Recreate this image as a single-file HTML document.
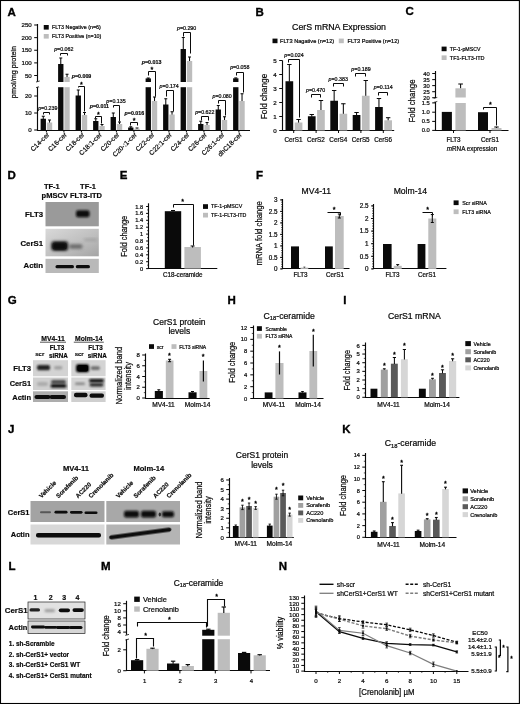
<!DOCTYPE html>
<html lang="en"><head><meta charset="utf-8"><title>Figure</title>
<style>
html,body{margin:0;padding:0;background:#fff;}
body{width:520px;height:704px;overflow:hidden;}
svg{display:block;font-family:"Liberation Sans",sans-serif;}
</style></head><body>
<svg width="520" height="704" viewBox="0 0 520 704">
<rect x="0" y="0" width="520" height="704" fill="#fff"/>
<text x="7.50" y="15.90" font-size="11.5" font-weight="bold" fill="#000" stroke="#000" stroke-width="0.35">A</text>
<line x1="37.50" y1="24.00" x2="37.50" y2="81.50" stroke="#0a0a0a" stroke-width="1.15" />
<line x1="34.20" y1="25.00" x2="37.50" y2="25.00" stroke="#0a0a0a" stroke-width="1.035" />
<text x="31.80" y="27.23" font-size="6.2" text-anchor="end" fill="#0a0a0a" stroke="#0a0a0a" stroke-width="0.22">250</text>
<line x1="34.20" y1="37.62" x2="37.50" y2="37.62" stroke="#0a0a0a" stroke-width="1.035" />
<text x="31.80" y="39.86" font-size="6.2" text-anchor="end" fill="#0a0a0a" stroke="#0a0a0a" stroke-width="0.22">200</text>
<line x1="34.20" y1="50.25" x2="37.50" y2="50.25" stroke="#0a0a0a" stroke-width="1.035" />
<text x="31.80" y="52.48" font-size="6.2" text-anchor="end" fill="#0a0a0a" stroke="#0a0a0a" stroke-width="0.22">150</text>
<line x1="34.20" y1="62.88" x2="37.50" y2="62.88" stroke="#0a0a0a" stroke-width="1.035" />
<text x="31.80" y="65.11" font-size="6.2" text-anchor="end" fill="#0a0a0a" stroke="#0a0a0a" stroke-width="0.22">100</text>
<line x1="34.20" y1="75.50" x2="37.50" y2="75.50" stroke="#0a0a0a" stroke-width="1.035" />
<text x="31.80" y="77.73" font-size="6.2" text-anchor="end" fill="#0a0a0a" stroke="#0a0a0a" stroke-width="0.22">50</text>
<line x1="37.50" y1="87.20" x2="37.50" y2="130.00" stroke="#0a0a0a" stroke-width="1.15" />
<line x1="34.20" y1="96.00" x2="37.50" y2="96.00" stroke="#0a0a0a" stroke-width="1.035" />
<text x="31.80" y="98.23" font-size="6.2" text-anchor="end" fill="#0a0a0a" stroke="#0a0a0a" stroke-width="0.22">20</text>
<line x1="34.20" y1="113.00" x2="37.50" y2="113.00" stroke="#0a0a0a" stroke-width="1.035" />
<text x="31.80" y="115.23" font-size="6.2" text-anchor="end" fill="#0a0a0a" stroke="#0a0a0a" stroke-width="0.22">10</text>
<line x1="34.20" y1="130.00" x2="37.50" y2="130.00" stroke="#0a0a0a" stroke-width="1.035" />
<text x="31.80" y="132.23" font-size="6.2" text-anchor="end" fill="#0a0a0a" stroke="#0a0a0a" stroke-width="0.22">0</text>
<line x1="36.00" y1="82.00" x2="39.70" y2="81.00" stroke="#0a0a0a" stroke-width="0.8" />
<line x1="36.00" y1="87.60" x2="39.70" y2="86.60" stroke="#0a0a0a" stroke-width="0.8" />
<line x1="36.95" y1="130.50" x2="250.00" y2="130.50" stroke="#0a0a0a" stroke-width="1.15" />
<text x="0" y="0" font-size="7.3" text-anchor="middle" fill="#0a0a0a" stroke="#0a0a0a" stroke-width="0.22" transform="translate(15.90 72.00) rotate(-90)">pmol/mg protein</text>
<rect x="43.75" y="25.00" width="5.00" height="4.60" fill="#0a0a0a" />
<text x="52.00" y="29.00" font-size="5.35" text-anchor="start" fill="#0a0a0a" stroke="#0a0a0a" stroke-width="0.22">FLT3 Negative (n=6)</text>
<rect x="43.75" y="34.00" width="5.00" height="4.60" fill="#bdbdbd" />
<text x="52.00" y="38.20" font-size="5.35" text-anchor="start" fill="#0a0a0a" stroke="#0a0a0a" stroke-width="0.22">FLT3 Positive (n=10)</text>
<line x1="43.27" y1="116.25" x2="43.27" y2="119.25" stroke="#0a0a0a" stroke-width="1.05" />
<line x1="41.77" y1="116.25" x2="44.77" y2="116.25" stroke="#0a0a0a" stroke-width="1.05" />
<line x1="49.52" y1="120.00" x2="49.52" y2="123.00" stroke="#0a0a0a" stroke-width="1.05" />
<line x1="48.02" y1="120.00" x2="51.02" y2="120.00" stroke="#0a0a0a" stroke-width="1.05" />
<rect x="40.60" y="118.75" width="5.35" height="11.25" fill="#0a0a0a" />
<rect x="46.85" y="122.50" width="5.35" height="7.50" fill="#bdbdbd" />
<line x1="46.40" y1="130.00" x2="46.40" y2="132.50" stroke="#0a0a0a" stroke-width="1.0" />
<text x="0" y="0" font-size="6.6" text-anchor="end" fill="#0a0a0a" stroke="#0a0a0a" stroke-width="0.22" transform="translate(49.80 135.20) rotate(-45)">C14-cer</text>
<line x1="60.77" y1="58.00" x2="60.77" y2="64.50" stroke="#0a0a0a" stroke-width="1.05" />
<line x1="59.27" y1="58.00" x2="62.27" y2="58.00" stroke="#0a0a0a" stroke-width="1.05" />
<line x1="67.03" y1="74.25" x2="67.03" y2="77.50" stroke="#0a0a0a" stroke-width="1.05" />
<line x1="65.53" y1="74.25" x2="68.53" y2="74.25" stroke="#0a0a0a" stroke-width="1.05" />
<rect x="58.10" y="64.00" width="5.35" height="66.00" fill="#0a0a0a" />
<rect x="64.35" y="77.00" width="5.35" height="53.00" fill="#bdbdbd" />
<line x1="63.90" y1="130.00" x2="63.90" y2="132.50" stroke="#0a0a0a" stroke-width="1.0" />
<text x="0" y="0" font-size="6.6" text-anchor="end" fill="#0a0a0a" stroke="#0a0a0a" stroke-width="0.22" transform="translate(67.30 135.20) rotate(-45)">C16-cer</text>
<line x1="78.27" y1="90.00" x2="78.27" y2="96.00" stroke="#0a0a0a" stroke-width="1.05" />
<line x1="76.77" y1="90.00" x2="79.77" y2="90.00" stroke="#0a0a0a" stroke-width="1.05" />
<line x1="84.52" y1="112.50" x2="84.52" y2="115.50" stroke="#0a0a0a" stroke-width="1.05" />
<line x1="83.02" y1="112.50" x2="86.02" y2="112.50" stroke="#0a0a0a" stroke-width="1.05" />
<rect x="75.60" y="95.50" width="5.35" height="34.50" fill="#0a0a0a" />
<rect x="81.85" y="115.00" width="5.35" height="15.00" fill="#bdbdbd" />
<line x1="81.40" y1="130.00" x2="81.40" y2="132.50" stroke="#0a0a0a" stroke-width="1.0" />
<text x="0" y="0" font-size="6.6" text-anchor="end" fill="#0a0a0a" stroke="#0a0a0a" stroke-width="0.22" transform="translate(84.80 135.20) rotate(-45)">C18-cer</text>
<line x1="95.77" y1="118.75" x2="95.77" y2="121.50" stroke="#0a0a0a" stroke-width="1.05" />
<line x1="94.27" y1="118.75" x2="97.27" y2="118.75" stroke="#0a0a0a" stroke-width="1.05" />
<line x1="102.02" y1="124.50" x2="102.02" y2="126.50" stroke="#0a0a0a" stroke-width="1.05" />
<line x1="100.52" y1="124.50" x2="103.52" y2="124.50" stroke="#0a0a0a" stroke-width="1.05" />
<rect x="93.10" y="121.00" width="5.35" height="9.00" fill="#0a0a0a" />
<rect x="99.35" y="126.00" width="5.35" height="4.00" fill="#bdbdbd" />
<line x1="98.90" y1="130.00" x2="98.90" y2="132.50" stroke="#0a0a0a" stroke-width="1.0" />
<text x="0" y="0" font-size="6.6" text-anchor="end" fill="#0a0a0a" stroke="#0a0a0a" stroke-width="0.22" transform="translate(102.30 135.20) rotate(-45)">C18:1-cer</text>
<line x1="113.27" y1="113.00" x2="113.27" y2="117.50" stroke="#0a0a0a" stroke-width="1.05" />
<line x1="111.77" y1="113.00" x2="114.77" y2="113.00" stroke="#0a0a0a" stroke-width="1.05" />
<line x1="119.52" y1="122.00" x2="119.52" y2="124.50" stroke="#0a0a0a" stroke-width="1.05" />
<line x1="118.02" y1="122.00" x2="121.02" y2="122.00" stroke="#0a0a0a" stroke-width="1.05" />
<rect x="110.60" y="117.00" width="5.35" height="13.00" fill="#0a0a0a" />
<rect x="116.85" y="124.00" width="5.35" height="6.00" fill="#bdbdbd" />
<line x1="116.40" y1="130.00" x2="116.40" y2="132.50" stroke="#0a0a0a" stroke-width="1.0" />
<text x="0" y="0" font-size="6.6" text-anchor="end" fill="#0a0a0a" stroke="#0a0a0a" stroke-width="0.22" transform="translate(119.80 135.20) rotate(-45)">C20-cer</text>
<line x1="130.78" y1="126.80" x2="130.78" y2="128.00" stroke="#0a0a0a" stroke-width="1.05" />
<line x1="129.28" y1="126.80" x2="132.28" y2="126.80" stroke="#0a0a0a" stroke-width="1.05" />
<line x1="137.03" y1="128.00" x2="137.03" y2="129.20" stroke="#0a0a0a" stroke-width="1.05" />
<line x1="135.53" y1="128.00" x2="138.53" y2="128.00" stroke="#0a0a0a" stroke-width="1.05" />
<rect x="128.10" y="127.50" width="5.35" height="2.50" fill="#0a0a0a" />
<rect x="134.35" y="128.70" width="5.35" height="1.30" fill="#bdbdbd" />
<line x1="133.90" y1="130.00" x2="133.90" y2="132.50" stroke="#0a0a0a" stroke-width="1.0" />
<text x="0" y="0" font-size="6.6" text-anchor="end" fill="#0a0a0a" stroke="#0a0a0a" stroke-width="0.22" transform="translate(137.30 135.20) rotate(-45)">C20-:1-cer</text>
<line x1="148.28" y1="78.00" x2="148.28" y2="78.90" stroke="#0a0a0a" stroke-width="1.05" />
<line x1="146.78" y1="78.00" x2="149.78" y2="78.00" stroke="#0a0a0a" stroke-width="1.05" />
<line x1="154.53" y1="97.00" x2="154.53" y2="101.50" stroke="#0a0a0a" stroke-width="1.05" />
<line x1="153.03" y1="97.00" x2="156.03" y2="97.00" stroke="#0a0a0a" stroke-width="1.05" />
<rect x="145.60" y="78.40" width="5.35" height="51.60" fill="#0a0a0a" />
<rect x="151.85" y="101.00" width="5.35" height="29.00" fill="#bdbdbd" />
<line x1="151.40" y1="130.00" x2="151.40" y2="132.50" stroke="#0a0a0a" stroke-width="1.0" />
<text x="0" y="0" font-size="6.6" text-anchor="end" fill="#0a0a0a" stroke="#0a0a0a" stroke-width="0.22" transform="translate(154.80 135.20) rotate(-45)">C22-cer</text>
<line x1="165.78" y1="98.75" x2="165.78" y2="105.00" stroke="#0a0a0a" stroke-width="1.05" />
<line x1="164.28" y1="98.75" x2="167.28" y2="98.75" stroke="#0a0a0a" stroke-width="1.05" />
<line x1="172.03" y1="111.75" x2="172.03" y2="115.00" stroke="#0a0a0a" stroke-width="1.05" />
<line x1="170.53" y1="111.75" x2="173.53" y2="111.75" stroke="#0a0a0a" stroke-width="1.05" />
<rect x="163.10" y="104.50" width="5.35" height="25.50" fill="#0a0a0a" />
<rect x="169.35" y="114.50" width="5.35" height="15.50" fill="#bdbdbd" />
<line x1="168.90" y1="130.00" x2="168.90" y2="132.50" stroke="#0a0a0a" stroke-width="1.0" />
<text x="0" y="0" font-size="6.6" text-anchor="end" fill="#0a0a0a" stroke="#0a0a0a" stroke-width="0.22" transform="translate(172.30 135.20) rotate(-45)">C22:1-cer</text>
<line x1="183.28" y1="37.50" x2="183.28" y2="49.50" stroke="#0a0a0a" stroke-width="1.05" />
<line x1="181.78" y1="37.50" x2="184.78" y2="37.50" stroke="#0a0a0a" stroke-width="1.05" />
<line x1="189.53" y1="57.00" x2="189.53" y2="61.50" stroke="#0a0a0a" stroke-width="1.05" />
<line x1="188.03" y1="57.00" x2="191.03" y2="57.00" stroke="#0a0a0a" stroke-width="1.05" />
<rect x="180.60" y="49.00" width="5.35" height="81.00" fill="#0a0a0a" />
<rect x="186.85" y="61.00" width="5.35" height="69.00" fill="#bdbdbd" />
<line x1="186.40" y1="130.00" x2="186.40" y2="132.50" stroke="#0a0a0a" stroke-width="1.0" />
<text x="0" y="0" font-size="6.6" text-anchor="end" fill="#0a0a0a" stroke="#0a0a0a" stroke-width="0.22" transform="translate(189.80 135.20) rotate(-45)">C24-cer</text>
<line x1="200.78" y1="121.25" x2="200.78" y2="124.50" stroke="#0a0a0a" stroke-width="1.05" />
<line x1="199.28" y1="121.25" x2="202.28" y2="121.25" stroke="#0a0a0a" stroke-width="1.05" />
<line x1="207.03" y1="122.50" x2="207.03" y2="125.50" stroke="#0a0a0a" stroke-width="1.05" />
<line x1="205.53" y1="122.50" x2="208.53" y2="122.50" stroke="#0a0a0a" stroke-width="1.05" />
<rect x="198.10" y="124.00" width="5.35" height="6.00" fill="#0a0a0a" />
<rect x="204.35" y="125.00" width="5.35" height="5.00" fill="#bdbdbd" />
<line x1="203.90" y1="130.00" x2="203.90" y2="132.50" stroke="#0a0a0a" stroke-width="1.0" />
<text x="0" y="0" font-size="6.6" text-anchor="end" fill="#0a0a0a" stroke="#0a0a0a" stroke-width="0.22" transform="translate(207.30 135.20) rotate(-45)">C26-cer</text>
<line x1="218.28" y1="105.50" x2="218.28" y2="110.00" stroke="#0a0a0a" stroke-width="1.05" />
<line x1="216.78" y1="105.50" x2="219.78" y2="105.50" stroke="#0a0a0a" stroke-width="1.05" />
<line x1="224.53" y1="116.75" x2="224.53" y2="120.50" stroke="#0a0a0a" stroke-width="1.05" />
<line x1="223.03" y1="116.75" x2="226.03" y2="116.75" stroke="#0a0a0a" stroke-width="1.05" />
<rect x="215.60" y="109.50" width="5.35" height="20.50" fill="#0a0a0a" />
<rect x="221.85" y="120.00" width="5.35" height="10.00" fill="#bdbdbd" />
<line x1="221.40" y1="130.00" x2="221.40" y2="132.50" stroke="#0a0a0a" stroke-width="1.0" />
<text x="0" y="0" font-size="6.6" text-anchor="end" fill="#0a0a0a" stroke="#0a0a0a" stroke-width="0.22" transform="translate(224.80 135.20) rotate(-45)">C26:1-cer</text>
<line x1="235.78" y1="77.90" x2="235.78" y2="78.80" stroke="#0a0a0a" stroke-width="1.05" />
<line x1="234.28" y1="77.90" x2="237.28" y2="77.90" stroke="#0a0a0a" stroke-width="1.05" />
<line x1="242.03" y1="93.75" x2="242.03" y2="101.50" stroke="#0a0a0a" stroke-width="1.05" />
<line x1="240.53" y1="93.75" x2="243.53" y2="93.75" stroke="#0a0a0a" stroke-width="1.05" />
<rect x="233.10" y="78.30" width="5.35" height="51.70" fill="#0a0a0a" />
<rect x="239.35" y="101.00" width="5.35" height="29.00" fill="#bdbdbd" />
<line x1="238.90" y1="130.00" x2="238.90" y2="132.50" stroke="#0a0a0a" stroke-width="1.0" />
<text x="0" y="0" font-size="6.6" text-anchor="end" fill="#0a0a0a" stroke="#0a0a0a" stroke-width="0.22" transform="translate(242.30 135.20) rotate(-45)">dhC18-cer</text>
<rect x="39.00" y="82.00" width="212.00" height="5.20" fill="#fff" />
<text x="47.80" y="110.00" font-size="5.3" text-anchor="middle" fill="#0a0a0a" stroke="#0a0a0a" stroke-width="0.22"><tspan font-style="italic">p</tspan>=0.239</text>
<polyline points="43.50,114.50 43.50,112.50 49.50,112.50 49.50,114.50" fill="none" stroke="#0a0a0a" stroke-width="1.0" />
<text x="63.80" y="51.20" font-size="5.3" text-anchor="middle" fill="#0a0a0a" stroke="#0a0a0a" stroke-width="0.22"><tspan font-style="italic">p</tspan>=0.062</text>
<polyline points="60.50,55.50 60.50,53.50 67.50,53.50 67.50,55.50" fill="none" stroke="#0a0a0a" stroke-width="1.0" />
<text x="81.50" y="78.00" font-size="5.3" text-anchor="middle" font-weight="bold" fill="#0a0a0a" stroke="#0a0a0a" stroke-width="0.18"><tspan font-style="italic">p</tspan>=0.009</text>
<text x="81.30" y="87.38" font-size="7.2" text-anchor="middle" fill="#000" stroke="#000" stroke-width="0.35">*</text>
<polyline points="78.50,87.50 78.50,86.50 84.50,86.50 84.50,111.50" fill="none" stroke="#0a0a0a" stroke-width="1.0" />
<text x="99.40" y="108.20" font-size="5.3" text-anchor="middle" font-weight="bold" fill="#0a0a0a" stroke="#0a0a0a" stroke-width="0.18"><tspan font-style="italic">p</tspan>=0.011</text>
<text x="98.40" y="117.38" font-size="7.2" text-anchor="middle" fill="#000" stroke="#000" stroke-width="0.35">*</text>
<polyline points="95.50,118.50 95.50,116.50 101.50,116.50 101.50,123.50" fill="none" stroke="#0a0a0a" stroke-width="1.0" />
<text x="116.00" y="102.50" font-size="5.3" text-anchor="middle" fill="#0a0a0a" stroke="#0a0a0a" stroke-width="0.22"><tspan font-style="italic">p</tspan>=0.135</text>
<polyline points="113.50,107.50 113.50,105.50 119.50,105.50 119.50,121.50" fill="none" stroke="#0a0a0a" stroke-width="1.0" />
<text x="134.40" y="115.00" font-size="5.3" text-anchor="middle" font-weight="bold" fill="#0a0a0a" stroke="#0a0a0a" stroke-width="0.18"><tspan font-style="italic">p</tspan>=0.016</text>
<text x="134.20" y="123.18" font-size="7.2" text-anchor="middle" fill="#000" stroke="#000" stroke-width="0.35">*</text>
<polyline points="130.50,125.50 130.50,122.50 137.50,122.50 137.50,125.50" fill="none" stroke="#0a0a0a" stroke-width="1.0" />
<text x="151.60" y="63.80" font-size="5.3" text-anchor="middle" font-weight="bold" fill="#0a0a0a" stroke="#0a0a0a" stroke-width="0.18"><tspan font-style="italic">p</tspan>=0.013</text>
<text x="152.00" y="72.38" font-size="7.2" text-anchor="middle" fill="#000" stroke="#000" stroke-width="0.35">*</text>
<polyline points="148.50,75.50 148.50,71.50 155.50,71.50 155.50,96.50" fill="none" stroke="#0a0a0a" stroke-width="1.0" />
<text x="169.10" y="88.00" font-size="5.3" text-anchor="middle" fill="#0a0a0a" stroke="#0a0a0a" stroke-width="0.22"><tspan font-style="italic">p</tspan>=0.174</text>
<polyline points="166.50,96.50 166.50,90.50 173.50,90.50 173.50,111.50" fill="none" stroke="#0a0a0a" stroke-width="1.0" />
<text x="186.60" y="29.50" font-size="5.3" text-anchor="middle" fill="#0a0a0a" stroke="#0a0a0a" stroke-width="0.22"><tspan font-style="italic">p</tspan>=0.290</text>
<polyline points="183.50,36.50 183.50,32.50 190.50,32.50 190.50,53.50" fill="none" stroke="#0a0a0a" stroke-width="1.0" />
<text x="204.80" y="113.80" font-size="5.3" text-anchor="middle" fill="#0a0a0a" stroke="#0a0a0a" stroke-width="0.22"><tspan font-style="italic">p</tspan>=0.622</text>
<polyline points="201.50,120.50 201.50,116.50 208.50,116.50 208.50,120.50" fill="none" stroke="#0a0a0a" stroke-width="1.0" />
<text x="222.10" y="97.50" font-size="5.3" text-anchor="middle" fill="#0a0a0a" stroke="#0a0a0a" stroke-width="0.22"><tspan font-style="italic">p</tspan>=0.080</text>
<polyline points="218.50,103.50 218.50,100.50 225.50,100.50 225.50,115.50" fill="none" stroke="#0a0a0a" stroke-width="1.0" />
<text x="239.80" y="68.80" font-size="5.3" text-anchor="middle" fill="#0a0a0a" stroke="#0a0a0a" stroke-width="0.22"><tspan font-style="italic">p</tspan>=0.058</text>
<polyline points="236.50,75.50 236.50,72.50 243.50,72.50 243.50,92.50" fill="none" stroke="#0a0a0a" stroke-width="1.0" />
<text x="255.50" y="15.90" font-size="11.5" font-weight="bold" fill="#000" stroke="#000" stroke-width="0.35">B</text>
<text x="339.00" y="29.60" font-size="8.8" text-anchor="middle" fill="#0a0a0a" stroke="#0a0a0a" stroke-width="0.22">CerS mRNA Expression</text>
<rect x="272.50" y="38.60" width="5.00" height="4.60" fill="#0a0a0a" />
<text x="280.00" y="42.80" font-size="5.6" text-anchor="start" fill="#0a0a0a" stroke="#0a0a0a" stroke-width="0.22">FLT3 Nagative (n=12)</text>
<rect x="338.80" y="38.60" width="5.00" height="4.60" fill="#bdbdbd" />
<text x="347.50" y="42.80" font-size="5.6" text-anchor="start" fill="#0a0a0a" stroke="#0a0a0a" stroke-width="0.22">FLT3 Positive (n=12)</text>
<line x1="282.50" y1="60.50" x2="282.50" y2="130.50" stroke="#0a0a0a" stroke-width="1.15" />
<line x1="279.20" y1="130.50" x2="282.50" y2="130.50" stroke="#0a0a0a" stroke-width="1.035" />
<text x="276.80" y="132.73" font-size="6.2" text-anchor="end" fill="#0a0a0a" stroke="#0a0a0a" stroke-width="0.22">0</text>
<line x1="279.20" y1="116.50" x2="282.50" y2="116.50" stroke="#0a0a0a" stroke-width="1.035" />
<text x="276.80" y="118.73" font-size="6.2" text-anchor="end" fill="#0a0a0a" stroke="#0a0a0a" stroke-width="0.22">1</text>
<line x1="279.20" y1="102.50" x2="282.50" y2="102.50" stroke="#0a0a0a" stroke-width="1.035" />
<text x="276.80" y="104.73" font-size="6.2" text-anchor="end" fill="#0a0a0a" stroke="#0a0a0a" stroke-width="0.22">2</text>
<line x1="279.20" y1="88.50" x2="282.50" y2="88.50" stroke="#0a0a0a" stroke-width="1.035" />
<text x="276.80" y="90.73" font-size="6.2" text-anchor="end" fill="#0a0a0a" stroke="#0a0a0a" stroke-width="0.22">3</text>
<line x1="279.20" y1="74.50" x2="282.50" y2="74.50" stroke="#0a0a0a" stroke-width="1.035" />
<text x="276.80" y="76.73" font-size="6.2" text-anchor="end" fill="#0a0a0a" stroke="#0a0a0a" stroke-width="0.22">4</text>
<line x1="279.20" y1="60.50" x2="282.50" y2="60.50" stroke="#0a0a0a" stroke-width="1.035" />
<text x="276.80" y="62.73" font-size="6.2" text-anchor="end" fill="#0a0a0a" stroke="#0a0a0a" stroke-width="0.22">5</text>
<line x1="281.95" y1="130.50" x2="394.20" y2="130.50" stroke="#0a0a0a" stroke-width="1.15" />
<text x="0" y="0" font-size="9.2" text-anchor="middle" fill="#0a0a0a" stroke="#0a0a0a" stroke-width="0.22" transform="translate(267.30 96.50) rotate(-90) scale(0.9 1)">Fold change</text>
<line x1="289.35" y1="64.50" x2="289.35" y2="81.75" stroke="#0a0a0a" stroke-width="1.05" />
<line x1="287.15" y1="64.50" x2="291.55" y2="64.50" stroke="#0a0a0a" stroke-width="1.05" />
<line x1="298.55" y1="119.50" x2="298.55" y2="123.00" stroke="#0a0a0a" stroke-width="1.05" />
<line x1="296.35" y1="119.50" x2="300.75" y2="119.50" stroke="#0a0a0a" stroke-width="1.05" />
<rect x="285.50" y="81.25" width="7.70" height="49.25" fill="#0a0a0a" />
<rect x="294.70" y="122.50" width="7.70" height="8.00" fill="#bdbdbd" />
<line x1="293.70" y1="130.50" x2="293.70" y2="133.00" stroke="#0a0a0a" stroke-width="1.0" />
<text x="293.50" y="142.30" font-size="6.3" text-anchor="middle" fill="#0a0a0a" stroke="#0a0a0a" stroke-width="0.22">CerS1</text>
<line x1="311.75" y1="114.50" x2="311.75" y2="116.75" stroke="#0a0a0a" stroke-width="1.05" />
<line x1="309.55" y1="114.50" x2="313.95" y2="114.50" stroke="#0a0a0a" stroke-width="1.05" />
<line x1="320.95" y1="100.50" x2="320.95" y2="110.50" stroke="#0a0a0a" stroke-width="1.05" />
<line x1="318.75" y1="100.50" x2="323.15" y2="100.50" stroke="#0a0a0a" stroke-width="1.05" />
<rect x="307.90" y="116.25" width="7.70" height="14.25" fill="#0a0a0a" />
<rect x="317.10" y="110.00" width="7.70" height="20.50" fill="#bdbdbd" />
<line x1="316.10" y1="130.50" x2="316.10" y2="133.00" stroke="#0a0a0a" stroke-width="1.0" />
<text x="315.90" y="142.30" font-size="6.3" text-anchor="middle" fill="#0a0a0a" stroke="#0a0a0a" stroke-width="0.22">CerS2</text>
<line x1="334.15" y1="90.50" x2="334.15" y2="101.25" stroke="#0a0a0a" stroke-width="1.05" />
<line x1="331.95" y1="90.50" x2="336.35" y2="90.50" stroke="#0a0a0a" stroke-width="1.05" />
<line x1="343.35" y1="103.75" x2="343.35" y2="114.25" stroke="#0a0a0a" stroke-width="1.05" />
<line x1="341.15" y1="103.75" x2="345.55" y2="103.75" stroke="#0a0a0a" stroke-width="1.05" />
<rect x="330.30" y="100.75" width="7.70" height="29.75" fill="#0a0a0a" />
<rect x="339.50" y="113.75" width="7.70" height="16.75" fill="#bdbdbd" />
<line x1="338.50" y1="130.50" x2="338.50" y2="133.00" stroke="#0a0a0a" stroke-width="1.0" />
<text x="338.30" y="142.30" font-size="6.3" text-anchor="middle" fill="#0a0a0a" stroke="#0a0a0a" stroke-width="0.22">CerS4</text>
<line x1="356.55" y1="112.50" x2="356.55" y2="115.50" stroke="#0a0a0a" stroke-width="1.05" />
<line x1="354.35" y1="112.50" x2="358.75" y2="112.50" stroke="#0a0a0a" stroke-width="1.05" />
<line x1="365.75" y1="80.50" x2="365.75" y2="96.25" stroke="#0a0a0a" stroke-width="1.05" />
<line x1="363.55" y1="80.50" x2="367.95" y2="80.50" stroke="#0a0a0a" stroke-width="1.05" />
<rect x="352.70" y="115.00" width="7.70" height="15.50" fill="#0a0a0a" />
<rect x="361.90" y="95.75" width="7.70" height="34.75" fill="#bdbdbd" />
<line x1="360.90" y1="130.50" x2="360.90" y2="133.00" stroke="#0a0a0a" stroke-width="1.0" />
<text x="360.70" y="142.30" font-size="6.3" text-anchor="middle" fill="#0a0a0a" stroke="#0a0a0a" stroke-width="0.22">CerS5</text>
<line x1="378.95" y1="98.50" x2="378.95" y2="107.50" stroke="#0a0a0a" stroke-width="1.05" />
<line x1="376.75" y1="98.50" x2="381.15" y2="98.50" stroke="#0a0a0a" stroke-width="1.05" />
<line x1="388.15" y1="117.70" x2="388.15" y2="120.80" stroke="#0a0a0a" stroke-width="1.05" />
<line x1="385.95" y1="117.70" x2="390.35" y2="117.70" stroke="#0a0a0a" stroke-width="1.05" />
<rect x="375.10" y="107.00" width="7.70" height="23.50" fill="#0a0a0a" />
<rect x="384.30" y="120.30" width="7.70" height="10.20" fill="#bdbdbd" />
<line x1="383.30" y1="130.50" x2="383.30" y2="133.00" stroke="#0a0a0a" stroke-width="1.0" />
<text x="383.10" y="142.30" font-size="6.3" text-anchor="middle" fill="#0a0a0a" stroke="#0a0a0a" stroke-width="0.22">CerS6</text>
<text x="294.00" y="57.40" font-size="5.3" text-anchor="middle" fill="#0a0a0a" stroke="#0a0a0a" stroke-width="0.22"><tspan font-style="italic">p</tspan>=0.024</text>
<polyline points="288.50,62.50 288.50,59.50 299.50,59.50 299.50,117.50" fill="none" stroke="#0a0a0a" stroke-width="1.0" />
<text x="315.60" y="92.20" font-size="5.3" text-anchor="middle" fill="#0a0a0a" stroke="#0a0a0a" stroke-width="0.22"><tspan font-style="italic">p</tspan>=0.470</text>
<polyline points="311.50,97.50 311.50,94.50 320.50,94.50 320.50,97.50" fill="none" stroke="#0a0a0a" stroke-width="1.0" />
<text x="338.20" y="81.20" font-size="5.3" text-anchor="middle" fill="#0a0a0a" stroke="#0a0a0a" stroke-width="0.22"><tspan font-style="italic">p</tspan>=0.383</text>
<polyline points="333.50,86.50 333.50,83.50 343.50,83.50 343.50,86.50" fill="none" stroke="#0a0a0a" stroke-width="1.0" />
<text x="361.00" y="71.10" font-size="5.3" text-anchor="middle" fill="#0a0a0a" stroke="#0a0a0a" stroke-width="0.22"><tspan font-style="italic">p</tspan>=0.189</text>
<polyline points="355.50,76.50 355.50,73.50 365.50,73.50 365.50,76.50" fill="none" stroke="#0a0a0a" stroke-width="1.0" />
<text x="383.20" y="89.40" font-size="5.3" text-anchor="middle" fill="#0a0a0a" stroke="#0a0a0a" stroke-width="0.22"><tspan font-style="italic">p</tspan>=0.114</text>
<polyline points="378.50,95.50 378.50,92.50 387.50,92.50 387.50,95.50" fill="none" stroke="#0a0a0a" stroke-width="1.0" />
<text x="405.50" y="15.40" font-size="11.5" font-weight="bold" fill="#000" stroke="#000" stroke-width="0.35">C</text>
<rect x="441.60" y="46.60" width="5.00" height="4.60" fill="#0a0a0a" />
<text x="449.80" y="50.90" font-size="5.2" text-anchor="start" fill="#0a0a0a" stroke="#0a0a0a" stroke-width="0.22">TF-1-pMSCV</text>
<rect x="441.60" y="55.40" width="5.00" height="4.60" fill="#bdbdbd" />
<text x="449.80" y="59.70" font-size="5.5" text-anchor="start" fill="#0a0a0a" stroke="#0a0a0a" stroke-width="0.22">TF1-FLT3-ITD</text>
<line x1="435.50" y1="71.00" x2="435.50" y2="98.00" stroke="#0a0a0a" stroke-width="1.15" />
<line x1="432.20" y1="73.50" x2="435.50" y2="73.50" stroke="#0a0a0a" stroke-width="1.035" />
<text x="429.80" y="75.59" font-size="5.8" text-anchor="end" fill="#0a0a0a" stroke="#0a0a0a" stroke-width="0.22">40</text>
<line x1="432.20" y1="79.60" x2="435.50" y2="79.60" stroke="#0a0a0a" stroke-width="1.035" />
<text x="429.80" y="81.69" font-size="5.8" text-anchor="end" fill="#0a0a0a" stroke="#0a0a0a" stroke-width="0.22">35</text>
<line x1="432.20" y1="85.60" x2="435.50" y2="85.60" stroke="#0a0a0a" stroke-width="1.035" />
<text x="429.80" y="87.69" font-size="5.8" text-anchor="end" fill="#0a0a0a" stroke="#0a0a0a" stroke-width="0.22">30</text>
<line x1="432.20" y1="91.70" x2="435.50" y2="91.70" stroke="#0a0a0a" stroke-width="1.035" />
<text x="429.80" y="93.79" font-size="5.8" text-anchor="end" fill="#0a0a0a" stroke="#0a0a0a" stroke-width="0.22">25</text>
<line x1="432.20" y1="97.70" x2="435.50" y2="97.70" stroke="#0a0a0a" stroke-width="1.035" />
<text x="429.80" y="99.79" font-size="5.8" text-anchor="end" fill="#0a0a0a" stroke="#0a0a0a" stroke-width="0.22">20</text>
<line x1="435.50" y1="102.00" x2="435.50" y2="130.40" stroke="#0a0a0a" stroke-width="1.15" />
<line x1="432.20" y1="102.90" x2="435.50" y2="102.90" stroke="#0a0a0a" stroke-width="1.035" />
<text x="429.80" y="104.99" font-size="5.8" text-anchor="end" fill="#0a0a0a" stroke="#0a0a0a" stroke-width="0.22">1.5</text>
<line x1="432.20" y1="112.20" x2="435.50" y2="112.20" stroke="#0a0a0a" stroke-width="1.035" />
<text x="429.80" y="114.29" font-size="5.8" text-anchor="end" fill="#0a0a0a" stroke="#0a0a0a" stroke-width="0.22">1.0</text>
<line x1="432.20" y1="121.40" x2="435.50" y2="121.40" stroke="#0a0a0a" stroke-width="1.035" />
<text x="429.80" y="123.49" font-size="5.8" text-anchor="end" fill="#0a0a0a" stroke="#0a0a0a" stroke-width="0.22">0.5</text>
<line x1="432.20" y1="130.40" x2="435.50" y2="130.40" stroke="#0a0a0a" stroke-width="1.035" />
<text x="429.80" y="132.49" font-size="5.8" text-anchor="end" fill="#0a0a0a" stroke="#0a0a0a" stroke-width="0.22">0.0</text>
<line x1="433.70" y1="98.40" x2="437.30" y2="97.40" stroke="#0a0a0a" stroke-width="0.7" />
<line x1="433.70" y1="102.40" x2="437.30" y2="101.40" stroke="#0a0a0a" stroke-width="0.7" />
<line x1="434.95" y1="130.50" x2="508.50" y2="130.50" stroke="#0a0a0a" stroke-width="1.15" />
<text x="0" y="0" font-size="8.7" text-anchor="middle" fill="#0a0a0a" stroke="#0a0a0a" stroke-width="0.22" transform="translate(415.20 101.00) rotate(-90) scale(0.9 1)">Fold change</text>
<rect x="441.80" y="111.90" width="10.10" height="18.50" fill="#0a0a0a" />
<line x1="460.60" y1="84.00" x2="460.60" y2="88.50" stroke="#0a0a0a" stroke-width="1.05" />
<line x1="458.30" y1="84.00" x2="462.90" y2="84.00" stroke="#0a0a0a" stroke-width="1.05" />
<rect x="455.40" y="88.30" width="10.40" height="9.20" fill="#bdbdbd" />
<rect x="455.40" y="103.00" width="10.40" height="27.40" fill="#bdbdbd" />
<line x1="453.50" y1="130.40" x2="453.50" y2="133.00" stroke="#0a0a0a" stroke-width="1.0" />
<rect x="478.00" y="112.20" width="10.00" height="18.20" fill="#0a0a0a" />
<rect x="491.50" y="128.00" width="10.00" height="2.40" fill="#bdbdbd" />
<line x1="496.50" y1="127.00" x2="496.50" y2="128.00" stroke="#0a0a0a" stroke-width="1.05" />
<line x1="494.30" y1="127.00" x2="498.70" y2="127.00" stroke="#0a0a0a" stroke-width="1.05" />
<line x1="490.00" y1="130.40" x2="490.00" y2="133.00" stroke="#0a0a0a" stroke-width="1.0" />
<polyline points="483.50,109.50 483.50,107.50 496.50,107.50 496.50,125.50" fill="none" stroke="#0a0a0a" stroke-width="1.0" />
<text x="490.50" y="106.88" font-size="7.2" text-anchor="middle" fill="#000" stroke="#000" stroke-width="0.35">*</text>
<text x="453.50" y="142.30" font-size="6.3" text-anchor="middle" fill="#0a0a0a" stroke="#0a0a0a" stroke-width="0.22">FLT3</text>
<text x="490.00" y="142.30" font-size="6.3" text-anchor="middle" fill="#0a0a0a" stroke="#0a0a0a" stroke-width="0.22">CerS1</text>
<text x="472.00" y="151.20" font-size="6.3" text-anchor="middle" fill="#0a0a0a" stroke="#0a0a0a" stroke-width="0.22"><tspan font-style="italic">m</tspan>RNA expression</text>
<text x="7.50" y="178.70" font-size="11.5" font-weight="bold" fill="#000" stroke="#000" stroke-width="0.35">D</text>
<defs><filter id="b1" x="-30%" y="-60%" width="160%" height="220%"><feGaussianBlur stdDeviation="0.9"/></filter><filter id="b2" x="-30%" y="-60%" width="160%" height="220%"><feGaussianBlur stdDeviation="1.5"/></filter><filter id="b05" x="-30%" y="-60%" width="160%" height="220%"><feGaussianBlur stdDeviation="0.55"/></filter><linearGradient id="gD2" x1="0" x2="1" y1="0" y2="1"><stop offset="0" stop-color="#d9d9d9"/><stop offset="0.6" stop-color="#bdbdbd"/><stop offset="1" stop-color="#a4a4a4"/></linearGradient></defs>
<text x="51.80" y="188.80" font-size="7.5" text-anchor="middle" font-weight="bold" fill="#0a0a0a" stroke="#0a0a0a" stroke-width="0.18">TF-1</text>
<text x="54.70" y="198.00" font-size="7.5" text-anchor="middle" font-weight="bold" fill="#0a0a0a" stroke="#0a0a0a" stroke-width="0.18">pMSCV</text>
<text x="88.00" y="188.80" font-size="7.5" text-anchor="middle" font-weight="bold" fill="#0a0a0a" stroke="#0a0a0a" stroke-width="0.18">TF-1</text>
<text x="86.00" y="198.00" font-size="7.5" text-anchor="middle" font-weight="bold" fill="#0a0a0a" stroke="#0a0a0a" stroke-width="0.18">FLT3-ITD</text>
<clipPath id="c1"><rect x="45.50" y="202.00" width="53.30" height="24.30"/></clipPath>
<rect x="45.50" y="202.00" width="53.30" height="24.30" fill="#9a9a9a" />
<g clip-path="url(#c1)"><rect x="76.00" y="210.30" width="13.50" height="7.00" rx="2.00" fill="#0c0c0c" opacity="1" filter="url(#b1)"/></g>
<clipPath id="c2"><rect x="45.50" y="228.80" width="53.30" height="27.50"/></clipPath>
<rect x="45.50" y="228.80" width="53.30" height="27.50" fill="url(#gD2)" />
<g clip-path="url(#c2)"><rect x="51.50" y="241.50" width="16.50" height="9.00" rx="2.00" fill="#0a0a0a" opacity="1" filter="url(#b2)"/></g>
<g clip-path="url(#c2)"><rect x="53.00" y="243.00" width="13.00" height="6.50" rx="2.00" fill="#0a0a0a" opacity="1" filter="url(#b1)"/></g>
<g clip-path="url(#c2)"><rect x="69.00" y="244.30" width="13.50" height="4.50" rx="2.00" fill="#555" opacity="0.8" filter="url(#b2)"/></g>
<g clip-path="url(#c2)"><rect x="84.00" y="238.50" width="13.00" height="2.50" rx="1.25" fill="#888" opacity="0.5" filter="url(#b2)"/></g>
<clipPath id="c3"><rect x="45.50" y="258.80" width="53.30" height="14.20"/></clipPath>
<rect x="45.50" y="258.80" width="53.30" height="14.20" fill="#b9b9b9" />
<g clip-path="url(#c3)"><rect x="55.50" y="265.00" width="18.50" height="3.30" rx="1.65" fill="#0a0a0a" opacity="1" filter="url(#b05)"/></g>
<g clip-path="url(#c3)"><rect x="75.80" y="265.00" width="14.20" height="3.30" rx="1.65" fill="#0a0a0a" opacity="1" filter="url(#b05)"/></g>
<text x="43.00" y="217.00" font-size="7.8" text-anchor="end" font-weight="bold" fill="#0a0a0a" stroke="#0a0a0a" stroke-width="0.18">FLT3</text>
<text x="43.00" y="245.80" font-size="7.8" text-anchor="end" font-weight="bold" fill="#0a0a0a" stroke="#0a0a0a" stroke-width="0.18">CerS1</text>
<text x="43.00" y="268.20" font-size="7.8" text-anchor="end" font-weight="bold" fill="#0a0a0a" stroke="#0a0a0a" stroke-width="0.18">Actin</text>
<text x="119.80" y="178.70" font-size="11.5" font-weight="bold" fill="#000" stroke="#000" stroke-width="0.35">E</text>
<line x1="148.50" y1="203.30" x2="148.50" y2="268.60" stroke="#0a0a0a" stroke-width="1.15" />
<line x1="146.10" y1="268.60" x2="148.50" y2="268.60" stroke="#0a0a0a" stroke-width="1.035" />
<text x="143.10" y="270.65" font-size="5.7" text-anchor="end" fill="#0a0a0a" stroke="#0a0a0a" stroke-width="0.22">0</text>
<line x1="146.10" y1="261.70" x2="148.50" y2="261.70" stroke="#0a0a0a" stroke-width="1.035" />
<text x="143.10" y="263.75" font-size="5.7" text-anchor="end" fill="#0a0a0a" stroke="#0a0a0a" stroke-width="0.22">0.2</text>
<line x1="146.10" y1="254.80" x2="148.50" y2="254.80" stroke="#0a0a0a" stroke-width="1.035" />
<text x="143.10" y="256.85" font-size="5.7" text-anchor="end" fill="#0a0a0a" stroke="#0a0a0a" stroke-width="0.22">0.4</text>
<line x1="146.10" y1="247.90" x2="148.50" y2="247.90" stroke="#0a0a0a" stroke-width="1.035" />
<text x="143.10" y="249.95" font-size="5.7" text-anchor="end" fill="#0a0a0a" stroke="#0a0a0a" stroke-width="0.22">0.6</text>
<line x1="146.10" y1="241.00" x2="148.50" y2="241.00" stroke="#0a0a0a" stroke-width="1.035" />
<text x="143.10" y="243.05" font-size="5.7" text-anchor="end" fill="#0a0a0a" stroke="#0a0a0a" stroke-width="0.22">0.8</text>
<line x1="146.10" y1="234.10" x2="148.50" y2="234.10" stroke="#0a0a0a" stroke-width="1.035" />
<text x="143.10" y="236.15" font-size="5.7" text-anchor="end" fill="#0a0a0a" stroke="#0a0a0a" stroke-width="0.22">1</text>
<line x1="146.10" y1="227.20" x2="148.50" y2="227.20" stroke="#0a0a0a" stroke-width="1.035" />
<text x="143.10" y="229.25" font-size="5.7" text-anchor="end" fill="#0a0a0a" stroke="#0a0a0a" stroke-width="0.22">1.2</text>
<line x1="146.10" y1="220.30" x2="148.50" y2="220.30" stroke="#0a0a0a" stroke-width="1.035" />
<text x="143.10" y="222.35" font-size="5.7" text-anchor="end" fill="#0a0a0a" stroke="#0a0a0a" stroke-width="0.22">1.4</text>
<line x1="146.10" y1="213.40" x2="148.50" y2="213.40" stroke="#0a0a0a" stroke-width="1.035" />
<text x="143.10" y="215.45" font-size="5.7" text-anchor="end" fill="#0a0a0a" stroke="#0a0a0a" stroke-width="0.22">1.6</text>
<line x1="146.10" y1="206.50" x2="148.50" y2="206.50" stroke="#0a0a0a" stroke-width="1.035" />
<text x="143.10" y="208.55" font-size="5.7" text-anchor="end" fill="#0a0a0a" stroke="#0a0a0a" stroke-width="0.22">1.8</text>
<line x1="147.10" y1="265.15" x2="148.50" y2="265.15" stroke="#0a0a0a" stroke-width="0.7" />
<line x1="147.10" y1="258.25" x2="148.50" y2="258.25" stroke="#0a0a0a" stroke-width="0.7" />
<line x1="147.10" y1="251.35" x2="148.50" y2="251.35" stroke="#0a0a0a" stroke-width="0.7" />
<line x1="147.10" y1="244.45" x2="148.50" y2="244.45" stroke="#0a0a0a" stroke-width="0.7" />
<line x1="147.10" y1="237.55" x2="148.50" y2="237.55" stroke="#0a0a0a" stroke-width="0.7" />
<line x1="147.10" y1="230.65" x2="148.50" y2="230.65" stroke="#0a0a0a" stroke-width="0.7" />
<line x1="147.10" y1="223.75" x2="148.50" y2="223.75" stroke="#0a0a0a" stroke-width="0.7" />
<line x1="147.10" y1="216.85" x2="148.50" y2="216.85" stroke="#0a0a0a" stroke-width="0.7" />
<line x1="147.10" y1="209.95" x2="148.50" y2="209.95" stroke="#0a0a0a" stroke-width="0.7" />
<line x1="147.95" y1="268.50" x2="217.30" y2="268.50" stroke="#0a0a0a" stroke-width="1.15" />
<text x="0" y="0" font-size="8.3" text-anchor="middle" fill="#0a0a0a" stroke="#0a0a0a" stroke-width="0.22" transform="translate(127.40 236.30) rotate(-90) scale(0.9 1)">Fold change</text>
<rect x="164.80" y="211.20" width="16.40" height="57.40" fill="#0a0a0a" />
<rect x="184.40" y="247.00" width="16.50" height="21.60" fill="#bdbdbd" />
<line x1="173.00" y1="210.50" x2="173.00" y2="211.50" stroke="#0a0a0a" stroke-width="1.05" />
<line x1="171.00" y1="210.50" x2="175.00" y2="210.50" stroke="#0a0a0a" stroke-width="1.05" />
<line x1="192.60" y1="246.00" x2="192.60" y2="247.50" stroke="#0a0a0a" stroke-width="1.05" />
<line x1="190.60" y1="246.00" x2="194.60" y2="246.00" stroke="#0a0a0a" stroke-width="1.05" />
<polyline points="173.50,207.50 173.50,204.50 193.50,204.50 193.50,245.50" fill="none" stroke="#0a0a0a" stroke-width="1.0" />
<text x="182.70" y="203.68" font-size="7.2" text-anchor="middle" fill="#000" stroke="#000" stroke-width="0.35">*</text>
<text x="182.70" y="277.30" font-size="6.3" text-anchor="middle" fill="#0a0a0a" stroke="#0a0a0a" stroke-width="0.22">C18-ceramide</text>
<rect x="203.00" y="204.20" width="5.00" height="4.70" fill="#0a0a0a" />
<text x="211.00" y="208.40" font-size="5.3" text-anchor="start" fill="#0a0a0a" stroke="#0a0a0a" stroke-width="0.22">TF-1-pMSCV</text>
<rect x="203.00" y="212.80" width="5.00" height="4.70" fill="#bdbdbd" />
<text x="211.00" y="217.00" font-size="5.3" text-anchor="start" fill="#0a0a0a" stroke="#0a0a0a" stroke-width="0.22">TF-1-FLT3-ITD</text>
<text x="256.00" y="178.70" font-size="11.5" font-weight="bold" fill="#000" stroke="#000" stroke-width="0.35">F</text>
<text x="316.30" y="193.70" font-size="8.6" text-anchor="middle" fill="#0a0a0a" stroke="#0a0a0a" stroke-width="0.22">MV4-11</text>
<line x1="282.50" y1="199.00" x2="282.50" y2="268.90" stroke="#0a0a0a" stroke-width="1.15" />
<line x1="280.10" y1="268.90" x2="282.50" y2="268.90" stroke="#0a0a0a" stroke-width="1.035" />
<text x="277.50" y="271.17" font-size="6.3" text-anchor="end" fill="#0a0a0a" stroke="#0a0a0a" stroke-width="0.22">0</text>
<line x1="280.10" y1="257.40" x2="282.50" y2="257.40" stroke="#0a0a0a" stroke-width="1.035" />
<text x="277.50" y="259.67" font-size="6.3" text-anchor="end" fill="#0a0a0a" stroke="#0a0a0a" stroke-width="0.22">0.5</text>
<line x1="280.10" y1="245.90" x2="282.50" y2="245.90" stroke="#0a0a0a" stroke-width="1.035" />
<text x="277.50" y="248.17" font-size="6.3" text-anchor="end" fill="#0a0a0a" stroke="#0a0a0a" stroke-width="0.22">1</text>
<line x1="280.10" y1="234.40" x2="282.50" y2="234.40" stroke="#0a0a0a" stroke-width="1.035" />
<text x="277.50" y="236.67" font-size="6.3" text-anchor="end" fill="#0a0a0a" stroke="#0a0a0a" stroke-width="0.22">1.5</text>
<line x1="280.10" y1="222.90" x2="282.50" y2="222.90" stroke="#0a0a0a" stroke-width="1.035" />
<text x="277.50" y="225.17" font-size="6.3" text-anchor="end" fill="#0a0a0a" stroke="#0a0a0a" stroke-width="0.22">2</text>
<line x1="280.10" y1="211.40" x2="282.50" y2="211.40" stroke="#0a0a0a" stroke-width="1.035" />
<text x="277.50" y="213.67" font-size="6.3" text-anchor="end" fill="#0a0a0a" stroke="#0a0a0a" stroke-width="0.22">2.5</text>
<line x1="280.10" y1="199.90" x2="282.50" y2="199.90" stroke="#0a0a0a" stroke-width="1.035" />
<text x="277.50" y="202.17" font-size="6.3" text-anchor="end" fill="#0a0a0a" stroke="#0a0a0a" stroke-width="0.22">3</text>
<line x1="281.10" y1="268.90" x2="282.50" y2="268.90" stroke="#0a0a0a" stroke-width="0.65" />
<line x1="281.10" y1="266.60" x2="282.50" y2="266.60" stroke="#0a0a0a" stroke-width="0.65" />
<line x1="281.10" y1="264.30" x2="282.50" y2="264.30" stroke="#0a0a0a" stroke-width="0.65" />
<line x1="281.10" y1="262.00" x2="282.50" y2="262.00" stroke="#0a0a0a" stroke-width="0.65" />
<line x1="281.10" y1="259.70" x2="282.50" y2="259.70" stroke="#0a0a0a" stroke-width="0.65" />
<line x1="281.10" y1="257.40" x2="282.50" y2="257.40" stroke="#0a0a0a" stroke-width="0.65" />
<line x1="281.10" y1="255.10" x2="282.50" y2="255.10" stroke="#0a0a0a" stroke-width="0.65" />
<line x1="281.10" y1="252.80" x2="282.50" y2="252.80" stroke="#0a0a0a" stroke-width="0.65" />
<line x1="281.10" y1="250.50" x2="282.50" y2="250.50" stroke="#0a0a0a" stroke-width="0.65" />
<line x1="281.10" y1="248.20" x2="282.50" y2="248.20" stroke="#0a0a0a" stroke-width="0.65" />
<line x1="281.10" y1="245.90" x2="282.50" y2="245.90" stroke="#0a0a0a" stroke-width="0.65" />
<line x1="281.10" y1="243.60" x2="282.50" y2="243.60" stroke="#0a0a0a" stroke-width="0.65" />
<line x1="281.10" y1="241.30" x2="282.50" y2="241.30" stroke="#0a0a0a" stroke-width="0.65" />
<line x1="281.10" y1="239.00" x2="282.50" y2="239.00" stroke="#0a0a0a" stroke-width="0.65" />
<line x1="281.10" y1="236.70" x2="282.50" y2="236.70" stroke="#0a0a0a" stroke-width="0.65" />
<line x1="281.10" y1="234.40" x2="282.50" y2="234.40" stroke="#0a0a0a" stroke-width="0.65" />
<line x1="281.10" y1="232.10" x2="282.50" y2="232.10" stroke="#0a0a0a" stroke-width="0.65" />
<line x1="281.10" y1="229.80" x2="282.50" y2="229.80" stroke="#0a0a0a" stroke-width="0.65" />
<line x1="281.10" y1="227.50" x2="282.50" y2="227.50" stroke="#0a0a0a" stroke-width="0.65" />
<line x1="281.10" y1="225.20" x2="282.50" y2="225.20" stroke="#0a0a0a" stroke-width="0.65" />
<line x1="281.10" y1="222.90" x2="282.50" y2="222.90" stroke="#0a0a0a" stroke-width="0.65" />
<line x1="281.10" y1="220.60" x2="282.50" y2="220.60" stroke="#0a0a0a" stroke-width="0.65" />
<line x1="281.10" y1="218.30" x2="282.50" y2="218.30" stroke="#0a0a0a" stroke-width="0.65" />
<line x1="281.10" y1="216.00" x2="282.50" y2="216.00" stroke="#0a0a0a" stroke-width="0.65" />
<line x1="281.10" y1="213.70" x2="282.50" y2="213.70" stroke="#0a0a0a" stroke-width="0.65" />
<line x1="281.10" y1="211.40" x2="282.50" y2="211.40" stroke="#0a0a0a" stroke-width="0.65" />
<line x1="281.10" y1="209.10" x2="282.50" y2="209.10" stroke="#0a0a0a" stroke-width="0.65" />
<line x1="281.10" y1="206.80" x2="282.50" y2="206.80" stroke="#0a0a0a" stroke-width="0.65" />
<line x1="281.10" y1="204.50" x2="282.50" y2="204.50" stroke="#0a0a0a" stroke-width="0.65" />
<line x1="281.10" y1="202.20" x2="282.50" y2="202.20" stroke="#0a0a0a" stroke-width="0.65" />
<line x1="281.10" y1="199.90" x2="282.50" y2="199.90" stroke="#0a0a0a" stroke-width="0.65" />
<line x1="281.95" y1="268.50" x2="349.50" y2="268.50" stroke="#0a0a0a" stroke-width="1.15" />
<text x="0" y="0" font-size="8.8" text-anchor="middle" fill="#0a0a0a" stroke="#0a0a0a" stroke-width="0.22" transform="translate(262.00 233.30) rotate(-90) scale(0.88 1)">mRNA fold change</text>
<rect x="291.00" y="246.40" width="8.00" height="22.50" fill="#0a0a0a" />
<rect x="300.50" y="267.60" width="7.80" height="1.30" fill="#bdbdbd" />
<line x1="304.40" y1="267.00" x2="304.40" y2="267.80" stroke="#0a0a0a" stroke-width="0.6" />
<line x1="303.40" y1="267.00" x2="305.40" y2="267.00" stroke="#0a0a0a" stroke-width="0.6" />
<rect x="325.00" y="246.40" width="7.80" height="22.50" fill="#0a0a0a" />
<rect x="335.00" y="216.00" width="8.70" height="52.90" fill="#bdbdbd" />
<line x1="339.30" y1="214.00" x2="339.30" y2="218.00" stroke="#0a0a0a" stroke-width="1.05" />
<line x1="337.80" y1="214.00" x2="340.80" y2="214.00" stroke="#0a0a0a" stroke-width="1.05" />
<line x1="337.80" y1="218.00" x2="340.80" y2="218.00" stroke="#0a0a0a" stroke-width="1.05" />
<polyline points="327.50,212.50 327.50,212.50 340.50,212.50 340.50,215.50" fill="none" stroke="#0a0a0a" stroke-width="1.0" />
<text x="334.20" y="211.98" font-size="7.2" text-anchor="middle" fill="#000" stroke="#000" stroke-width="0.35">*</text>
<text x="300.50" y="276.80" font-size="6.3" text-anchor="middle" fill="#0a0a0a" stroke="#0a0a0a" stroke-width="0.22">FLT3</text>
<text x="335.00" y="276.80" font-size="6.3" text-anchor="middle" fill="#0a0a0a" stroke="#0a0a0a" stroke-width="0.22">CerS1</text>
<text x="410.40" y="193.70" font-size="8.6" text-anchor="middle" fill="#0a0a0a" stroke="#0a0a0a" stroke-width="0.22">Molm-14</text>
<line x1="373.50" y1="204.00" x2="373.50" y2="268.90" stroke="#0a0a0a" stroke-width="1.15" />
<line x1="371.10" y1="268.90" x2="373.50" y2="268.90" stroke="#0a0a0a" stroke-width="1.035" />
<text x="368.50" y="271.17" font-size="6.3" text-anchor="end" fill="#0a0a0a" stroke="#0a0a0a" stroke-width="0.22">0</text>
<line x1="371.10" y1="256.30" x2="373.50" y2="256.30" stroke="#0a0a0a" stroke-width="1.035" />
<text x="368.50" y="258.57" font-size="6.3" text-anchor="end" fill="#0a0a0a" stroke="#0a0a0a" stroke-width="0.22">0.5</text>
<line x1="371.10" y1="243.70" x2="373.50" y2="243.70" stroke="#0a0a0a" stroke-width="1.035" />
<text x="368.50" y="245.97" font-size="6.3" text-anchor="end" fill="#0a0a0a" stroke="#0a0a0a" stroke-width="0.22">1</text>
<line x1="371.10" y1="231.10" x2="373.50" y2="231.10" stroke="#0a0a0a" stroke-width="1.035" />
<text x="368.50" y="233.37" font-size="6.3" text-anchor="end" fill="#0a0a0a" stroke="#0a0a0a" stroke-width="0.22">1.5</text>
<line x1="371.10" y1="218.50" x2="373.50" y2="218.50" stroke="#0a0a0a" stroke-width="1.035" />
<text x="368.50" y="220.77" font-size="6.3" text-anchor="end" fill="#0a0a0a" stroke="#0a0a0a" stroke-width="0.22">2</text>
<line x1="371.10" y1="205.90" x2="373.50" y2="205.90" stroke="#0a0a0a" stroke-width="1.035" />
<text x="368.50" y="208.17" font-size="6.3" text-anchor="end" fill="#0a0a0a" stroke="#0a0a0a" stroke-width="0.22">2.5</text>
<line x1="372.10" y1="268.90" x2="373.50" y2="268.90" stroke="#0a0a0a" stroke-width="0.65" />
<line x1="372.10" y1="266.38" x2="373.50" y2="266.38" stroke="#0a0a0a" stroke-width="0.65" />
<line x1="372.10" y1="263.86" x2="373.50" y2="263.86" stroke="#0a0a0a" stroke-width="0.65" />
<line x1="372.10" y1="261.34" x2="373.50" y2="261.34" stroke="#0a0a0a" stroke-width="0.65" />
<line x1="372.10" y1="258.82" x2="373.50" y2="258.82" stroke="#0a0a0a" stroke-width="0.65" />
<line x1="372.10" y1="256.30" x2="373.50" y2="256.30" stroke="#0a0a0a" stroke-width="0.65" />
<line x1="372.10" y1="253.78" x2="373.50" y2="253.78" stroke="#0a0a0a" stroke-width="0.65" />
<line x1="372.10" y1="251.26" x2="373.50" y2="251.26" stroke="#0a0a0a" stroke-width="0.65" />
<line x1="372.10" y1="248.74" x2="373.50" y2="248.74" stroke="#0a0a0a" stroke-width="0.65" />
<line x1="372.10" y1="246.22" x2="373.50" y2="246.22" stroke="#0a0a0a" stroke-width="0.65" />
<line x1="372.10" y1="243.70" x2="373.50" y2="243.70" stroke="#0a0a0a" stroke-width="0.65" />
<line x1="372.10" y1="241.18" x2="373.50" y2="241.18" stroke="#0a0a0a" stroke-width="0.65" />
<line x1="372.10" y1="238.66" x2="373.50" y2="238.66" stroke="#0a0a0a" stroke-width="0.65" />
<line x1="372.10" y1="236.14" x2="373.50" y2="236.14" stroke="#0a0a0a" stroke-width="0.65" />
<line x1="372.10" y1="233.62" x2="373.50" y2="233.62" stroke="#0a0a0a" stroke-width="0.65" />
<line x1="372.10" y1="231.10" x2="373.50" y2="231.10" stroke="#0a0a0a" stroke-width="0.65" />
<line x1="372.10" y1="228.58" x2="373.50" y2="228.58" stroke="#0a0a0a" stroke-width="0.65" />
<line x1="372.10" y1="226.06" x2="373.50" y2="226.06" stroke="#0a0a0a" stroke-width="0.65" />
<line x1="372.10" y1="223.54" x2="373.50" y2="223.54" stroke="#0a0a0a" stroke-width="0.65" />
<line x1="372.10" y1="221.02" x2="373.50" y2="221.02" stroke="#0a0a0a" stroke-width="0.65" />
<line x1="372.10" y1="218.50" x2="373.50" y2="218.50" stroke="#0a0a0a" stroke-width="0.65" />
<line x1="372.10" y1="215.98" x2="373.50" y2="215.98" stroke="#0a0a0a" stroke-width="0.65" />
<line x1="372.10" y1="213.46" x2="373.50" y2="213.46" stroke="#0a0a0a" stroke-width="0.65" />
<line x1="372.10" y1="210.94" x2="373.50" y2="210.94" stroke="#0a0a0a" stroke-width="0.65" />
<line x1="372.10" y1="208.42" x2="373.50" y2="208.42" stroke="#0a0a0a" stroke-width="0.65" />
<line x1="372.10" y1="205.90" x2="373.50" y2="205.90" stroke="#0a0a0a" stroke-width="0.65" />
<line x1="372.95" y1="268.50" x2="446.40" y2="268.50" stroke="#0a0a0a" stroke-width="1.15" />
<rect x="383.00" y="244.00" width="8.60" height="24.90" fill="#0a0a0a" />
<rect x="393.70" y="265.80" width="8.00" height="3.10" fill="#bdbdbd" />
<line x1="397.70" y1="264.60" x2="397.70" y2="266.00" stroke="#0a0a0a" stroke-width="1.05" />
<line x1="396.20" y1="264.60" x2="399.20" y2="264.60" stroke="#0a0a0a" stroke-width="1.05" />
<rect x="417.60" y="244.00" width="7.80" height="24.90" fill="#0a0a0a" />
<rect x="428.30" y="218.50" width="8.00" height="50.40" fill="#bdbdbd" />
<line x1="432.30" y1="214.50" x2="432.30" y2="222.50" stroke="#0a0a0a" stroke-width="1.05" />
<line x1="430.80" y1="214.50" x2="433.80" y2="214.50" stroke="#0a0a0a" stroke-width="1.05" />
<line x1="430.80" y1="222.50" x2="433.80" y2="222.50" stroke="#0a0a0a" stroke-width="1.05" />
<polyline points="422.50,212.50 422.50,212.50 432.50,212.50 432.50,216.50" fill="none" stroke="#0a0a0a" stroke-width="1.0" />
<text x="427.70" y="211.68" font-size="7.2" text-anchor="middle" fill="#000" stroke="#000" stroke-width="0.35">*</text>
<text x="392.50" y="276.80" font-size="6.3" text-anchor="middle" fill="#0a0a0a" stroke="#0a0a0a" stroke-width="0.22">FLT3</text>
<text x="427.00" y="276.80" font-size="6.3" text-anchor="middle" fill="#0a0a0a" stroke="#0a0a0a" stroke-width="0.22">CerS1</text>
<rect x="453.60" y="200.40" width="5.00" height="4.70" fill="#0a0a0a" />
<text x="462.30" y="204.70" font-size="5.3" text-anchor="start" fill="#0a0a0a" stroke="#0a0a0a" stroke-width="0.22">Scr siRNA</text>
<rect x="453.60" y="209.40" width="5.00" height="4.70" fill="#bdbdbd" />
<text x="462.30" y="213.70" font-size="5.3" text-anchor="start" fill="#0a0a0a" stroke="#0a0a0a" stroke-width="0.22">FLT3 siRNA</text>
<text x="7.80" y="303.70" font-size="11.5" font-weight="bold" fill="#000" stroke="#000" stroke-width="0.35">G</text>
<text x="53.00" y="340.50" font-size="6.8" text-anchor="middle" font-weight="bold" fill="#0a0a0a" stroke="#0a0a0a" stroke-width="0.18">MV4-11</text>
<line x1="40.00" y1="342.20" x2="66.00" y2="342.20" stroke="#0a0a0a" stroke-width="0.7" />
<text x="88.80" y="340.50" font-size="6.8" text-anchor="middle" font-weight="bold" fill="#0a0a0a" stroke="#0a0a0a" stroke-width="0.18">Molm-14</text>
<line x1="73.80" y1="342.20" x2="103.80" y2="342.20" stroke="#0a0a0a" stroke-width="0.7" />
<text x="39.80" y="356.00" font-size="6" text-anchor="middle" font-weight="bold" fill="#0a0a0a" stroke="#0a0a0a" stroke-width="0.18">scr</text>
<text x="57.00" y="349.50" font-size="6.3" text-anchor="middle" font-weight="bold" fill="#0a0a0a" stroke="#0a0a0a" stroke-width="0.18">FLT3</text>
<text x="58.40" y="357.50" font-size="6.3" text-anchor="middle" font-weight="bold" fill="#0a0a0a" stroke="#0a0a0a" stroke-width="0.18">siRNA</text>
<text x="79.20" y="356.00" font-size="6" text-anchor="middle" font-weight="bold" fill="#0a0a0a" stroke="#0a0a0a" stroke-width="0.18">scr</text>
<text x="95.60" y="349.50" font-size="6.3" text-anchor="middle" font-weight="bold" fill="#0a0a0a" stroke="#0a0a0a" stroke-width="0.18">FLT3</text>
<text x="97.30" y="357.50" font-size="6.3" text-anchor="middle" font-weight="bold" fill="#0a0a0a" stroke="#0a0a0a" stroke-width="0.18">siRNA</text>
<clipPath id="c4"><rect x="33.00" y="360.20" width="35.00" height="16.10"/></clipPath>
<rect x="33.00" y="360.20" width="35.00" height="16.10" fill="#d3d3d3" />
<g clip-path="url(#c4)"><rect x="37.00" y="365.00" width="13.00" height="5.30" rx="2.00" fill="#222" opacity="1" filter="url(#b1)"/></g>
<g clip-path="url(#c4)"><rect x="54.00" y="366.00" width="8.50" height="3.50" rx="1.75" fill="#777" opacity="0.55" filter="url(#b1)"/></g>
<clipPath id="c5"><rect x="33.00" y="377.50" width="35.00" height="12.50"/></clipPath>
<rect x="33.00" y="377.50" width="35.00" height="12.50" fill="#d0d0d0" />
<g clip-path="url(#c5)"><rect x="51.00" y="380.20" width="15.00" height="3.20" rx="1.60" fill="#2a2a2a" opacity="0.9" filter="url(#b1)"/></g>
<g clip-path="url(#c5)"><rect x="50.50" y="384.00" width="16.00" height="3.80" rx="1.90" fill="#111" opacity="1" filter="url(#b1)"/></g>
<g clip-path="url(#c5)"><rect x="37.00" y="382.00" width="11.00" height="4.00" rx="2.00" fill="#888" opacity="0.5" filter="url(#b1)"/></g>
<clipPath id="c6"><rect x="33.00" y="391.30" width="35.00" height="10.70"/></clipPath>
<rect x="33.00" y="391.30" width="35.00" height="10.70" fill="#adadad" />
<g clip-path="url(#c6)"><rect x="34.50" y="395.00" width="16.00" height="4.00" rx="2.00" fill="#111" opacity="1" filter="url(#b05)"/></g>
<g clip-path="url(#c6)"><rect x="49.50" y="395.00" width="16.50" height="4.00" rx="2.00" fill="#111" opacity="1" filter="url(#b05)"/></g>
<clipPath id="c7"><rect x="71.30" y="360.20" width="34.30" height="16.10"/></clipPath>
<rect x="71.30" y="360.20" width="34.30" height="16.10" fill="#d4d4d4" />
<g clip-path="url(#c7)"><rect x="76.00" y="364.20" width="13.00" height="8.10" rx="2.00" fill="#050505" opacity="1" filter="url(#b1)"/></g>
<g clip-path="url(#c7)"><rect x="77.50" y="365.00" width="10.50" height="6.50" rx="2.00" fill="#050505" opacity="1" filter="url(#b05)"/></g>
<g clip-path="url(#c7)"><rect x="90.50" y="366.20" width="9.50" height="3.80" rx="1.90" fill="#555" opacity="0.8" filter="url(#b1)"/></g>
<clipPath id="c8"><rect x="71.30" y="377.50" width="34.30" height="12.50"/></clipPath>
<rect x="71.30" y="377.50" width="34.30" height="12.50" fill="#d4d4d4" />
<g clip-path="url(#c8)"><rect x="89.00" y="379.00" width="15.00" height="3.40" rx="1.70" fill="#111" opacity="1" filter="url(#b1)"/></g>
<g clip-path="url(#c8)"><rect x="89.50" y="383.20" width="14.00" height="3.20" rx="1.60" fill="#1a1a1a" opacity="0.95" filter="url(#b1)"/></g>
<g clip-path="url(#c8)"><rect x="75.00" y="382.50" width="10.00" height="2.50" rx="1.25" fill="#666" opacity="0.7" filter="url(#b1)"/></g>
<clipPath id="c9"><rect x="71.30" y="391.30" width="34.30" height="10.70"/></clipPath>
<rect x="71.30" y="391.30" width="34.30" height="10.70" fill="#cfcfcf" />
<g clip-path="url(#c9)"><rect x="74.00" y="392.80" width="13.50" height="4.50" rx="2.00" fill="#0a0a0a" opacity="1" filter="url(#b05)"/></g>
<g clip-path="url(#c9)"><rect x="89.50" y="393.60" width="14.50" height="4.20" rx="2.00" fill="#0a0a0a" opacity="1" filter="url(#b05)"/></g>
<text x="31.00" y="370.60" font-size="7.7" text-anchor="end" font-weight="bold" fill="#0a0a0a" stroke="#0a0a0a" stroke-width="0.18">FLT3</text>
<text x="31.00" y="386.00" font-size="7.4" text-anchor="end" font-weight="bold" fill="#0a0a0a" stroke="#0a0a0a" stroke-width="0.18">CerS1</text>
<text x="31.00" y="399.60" font-size="7.5" text-anchor="end" font-weight="bold" fill="#0a0a0a" stroke="#0a0a0a" stroke-width="0.18">Actin</text>
<text x="0" y="0" font-size="8.9" text-anchor="middle" fill="#0a0a0a" stroke="#0a0a0a" stroke-width="0.22" transform="translate(121.80 375.70) rotate(-90) scale(0.86 1)">Normalized band</text>
<text x="0" y="0" font-size="8.9" text-anchor="middle" fill="#0a0a0a" stroke="#0a0a0a" stroke-width="0.22" transform="translate(130.50 376.00) rotate(-90) scale(0.86 1)">intensity</text>
<text x="179.30" y="324.50" font-size="8.5" text-anchor="middle" fill="#0a0a0a" stroke="#0a0a0a" stroke-width="0.22">CerS1 protein</text>
<text x="179.30" y="333.60" font-size="8.5" text-anchor="middle" fill="#0a0a0a" stroke="#0a0a0a" stroke-width="0.22">levels</text>
<rect x="149.00" y="344.20" width="5.00" height="4.70" fill="#0a0a0a" />
<text x="156.80" y="348.50" font-size="5" text-anchor="start" fill="#0a0a0a" stroke="#0a0a0a" stroke-width="0.22">scr</text>
<rect x="171.50" y="344.20" width="5.00" height="4.70" fill="#bdbdbd" />
<text x="179.30" y="348.50" font-size="5" text-anchor="start" fill="#0a0a0a" stroke="#0a0a0a" stroke-width="0.22">FLT3 siRNA</text>
<line x1="145.50" y1="353.50" x2="145.50" y2="398.00" stroke="#0a0a0a" stroke-width="1.15" />
<line x1="142.20" y1="398.00" x2="145.50" y2="398.00" stroke="#0a0a0a" stroke-width="1.035" />
<text x="139.80" y="400.16" font-size="6" text-anchor="end" fill="#0a0a0a" stroke="#0a0a0a" stroke-width="0.22">0</text>
<line x1="142.20" y1="387.25" x2="145.50" y2="387.25" stroke="#0a0a0a" stroke-width="1.035" />
<text x="139.80" y="389.41" font-size="6" text-anchor="end" fill="#0a0a0a" stroke="#0a0a0a" stroke-width="0.22">2</text>
<line x1="142.20" y1="376.50" x2="145.50" y2="376.50" stroke="#0a0a0a" stroke-width="1.035" />
<text x="139.80" y="378.66" font-size="6" text-anchor="end" fill="#0a0a0a" stroke="#0a0a0a" stroke-width="0.22">4</text>
<line x1="142.20" y1="365.75" x2="145.50" y2="365.75" stroke="#0a0a0a" stroke-width="1.035" />
<text x="139.80" y="367.91" font-size="6" text-anchor="end" fill="#0a0a0a" stroke="#0a0a0a" stroke-width="0.22">6</text>
<line x1="142.20" y1="355.00" x2="145.50" y2="355.00" stroke="#0a0a0a" stroke-width="1.035" />
<text x="139.80" y="357.16" font-size="6" text-anchor="end" fill="#0a0a0a" stroke="#0a0a0a" stroke-width="0.22">8</text>
<line x1="143.80" y1="392.62" x2="145.50" y2="392.62" stroke="#0a0a0a" stroke-width="0.7" />
<line x1="143.80" y1="381.88" x2="145.50" y2="381.88" stroke="#0a0a0a" stroke-width="0.7" />
<line x1="143.80" y1="371.12" x2="145.50" y2="371.12" stroke="#0a0a0a" stroke-width="0.7" />
<line x1="143.80" y1="360.38" x2="145.50" y2="360.38" stroke="#0a0a0a" stroke-width="0.7" />
<line x1="144.95" y1="398.50" x2="209.60" y2="398.50" stroke="#0a0a0a" stroke-width="1.15" />
<rect x="154.80" y="391.00" width="8.10" height="7.00" fill="#0a0a0a" />
<line x1="158.80" y1="389.80" x2="158.80" y2="391.20" stroke="#0a0a0a" stroke-width="1.05" />
<line x1="157.30" y1="389.80" x2="160.30" y2="389.80" stroke="#0a0a0a" stroke-width="1.05" />
<rect x="165.80" y="360.50" width="7.70" height="37.50" fill="#bdbdbd" />
<line x1="169.60" y1="359.30" x2="169.60" y2="361.70" stroke="#0a0a0a" stroke-width="1.05" />
<line x1="168.10" y1="359.30" x2="171.10" y2="359.30" stroke="#0a0a0a" stroke-width="1.05" />
<line x1="168.10" y1="361.70" x2="171.10" y2="361.70" stroke="#0a0a0a" stroke-width="1.05" />
<rect x="188.50" y="392.30" width="8.10" height="5.70" fill="#0a0a0a" />
<line x1="192.50" y1="391.50" x2="192.50" y2="392.50" stroke="#0a0a0a" stroke-width="1.05" />
<line x1="191.00" y1="391.50" x2="194.00" y2="391.50" stroke="#0a0a0a" stroke-width="1.05" />
<rect x="199.50" y="371.00" width="7.80" height="27.00" fill="#bdbdbd" />
<line x1="203.40" y1="360.50" x2="203.40" y2="381.60" stroke="#0a0a0a" stroke-width="1.2" />
<text x="169.30" y="357.58" font-size="7.2" text-anchor="middle" fill="#000" stroke="#000" stroke-width="0.35">*</text>
<text x="203.20" y="359.38" font-size="7.2" text-anchor="middle" fill="#000" stroke="#000" stroke-width="0.35">*</text>
<text x="163.50" y="407.00" font-size="6.6" text-anchor="middle" fill="#0a0a0a" stroke="#0a0a0a" stroke-width="0.22">MV4-11</text>
<text x="197.60" y="407.00" font-size="6.6" text-anchor="middle" fill="#0a0a0a" stroke="#0a0a0a" stroke-width="0.22">Molm-14</text>
<text x="227.60" y="303.70" font-size="11.5" font-weight="bold" fill="#000" stroke="#000" stroke-width="0.35">H</text>
<text x="289.20" y="318.50" font-size="8.7" text-anchor="middle" fill="#0a0a0a" stroke="#0a0a0a" stroke-width="0.22">C<tspan font-size="5.8" dy="1.7">18</tspan><tspan dy="-1.7">-ceramide</tspan></text>
<line x1="253.50" y1="325.50" x2="253.50" y2="398.50" stroke="#0a0a0a" stroke-width="1.15" />
<line x1="250.30" y1="398.50" x2="253.50" y2="398.50" stroke="#0a0a0a" stroke-width="1.035" />
<text x="247.30" y="400.59" font-size="5.8" text-anchor="end" fill="#0a0a0a" stroke="#0a0a0a" stroke-width="0.22">0</text>
<line x1="250.30" y1="386.67" x2="253.50" y2="386.67" stroke="#0a0a0a" stroke-width="1.035" />
<text x="247.30" y="388.76" font-size="5.8" text-anchor="end" fill="#0a0a0a" stroke="#0a0a0a" stroke-width="0.22">2</text>
<line x1="250.30" y1="374.84" x2="253.50" y2="374.84" stroke="#0a0a0a" stroke-width="1.035" />
<text x="247.30" y="376.93" font-size="5.8" text-anchor="end" fill="#0a0a0a" stroke="#0a0a0a" stroke-width="0.22">4</text>
<line x1="250.30" y1="363.01" x2="253.50" y2="363.01" stroke="#0a0a0a" stroke-width="1.035" />
<text x="247.30" y="365.10" font-size="5.8" text-anchor="end" fill="#0a0a0a" stroke="#0a0a0a" stroke-width="0.22">6</text>
<line x1="250.30" y1="351.18" x2="253.50" y2="351.18" stroke="#0a0a0a" stroke-width="1.035" />
<text x="247.30" y="353.27" font-size="5.8" text-anchor="end" fill="#0a0a0a" stroke="#0a0a0a" stroke-width="0.22">8</text>
<line x1="250.30" y1="339.35" x2="253.50" y2="339.35" stroke="#0a0a0a" stroke-width="1.035" />
<text x="247.30" y="341.44" font-size="5.8" text-anchor="end" fill="#0a0a0a" stroke="#0a0a0a" stroke-width="0.22">10</text>
<line x1="250.30" y1="327.52" x2="253.50" y2="327.52" stroke="#0a0a0a" stroke-width="1.035" />
<text x="247.30" y="329.61" font-size="5.8" text-anchor="end" fill="#0a0a0a" stroke="#0a0a0a" stroke-width="0.22">12</text>
<line x1="251.80" y1="392.59" x2="253.50" y2="392.59" stroke="#0a0a0a" stroke-width="0.7" />
<line x1="251.80" y1="380.75" x2="253.50" y2="380.75" stroke="#0a0a0a" stroke-width="0.7" />
<line x1="251.80" y1="368.92" x2="253.50" y2="368.92" stroke="#0a0a0a" stroke-width="0.7" />
<line x1="251.80" y1="357.10" x2="253.50" y2="357.10" stroke="#0a0a0a" stroke-width="0.7" />
<line x1="251.80" y1="345.26" x2="253.50" y2="345.26" stroke="#0a0a0a" stroke-width="0.7" />
<line x1="251.80" y1="333.44" x2="253.50" y2="333.44" stroke="#0a0a0a" stroke-width="0.7" />
<line x1="252.95" y1="398.50" x2="323.50" y2="398.50" stroke="#0a0a0a" stroke-width="1.15" />
<text x="0" y="0" font-size="8.3" text-anchor="middle" fill="#0a0a0a" stroke="#0a0a0a" stroke-width="0.22" transform="translate(235.00 362.30) rotate(-90) scale(0.9 1)">Fold change</text>
<rect x="256.90" y="326.20" width="5.00" height="4.70" fill="#0a0a0a" />
<text x="265.60" y="330.50" font-size="5" text-anchor="start" fill="#0a0a0a" stroke="#0a0a0a" stroke-width="0.22">Scramble</text>
<rect x="256.90" y="333.90" width="5.00" height="4.70" fill="#bdbdbd" />
<text x="265.60" y="338.20" font-size="5" text-anchor="start" fill="#0a0a0a" stroke="#0a0a0a" stroke-width="0.22">FLT3 siRNA</text>
<rect x="264.70" y="392.40" width="7.80" height="6.10" fill="#0a0a0a" />
<rect x="275.40" y="363.00" width="8.10" height="35.50" fill="#bdbdbd" />
<line x1="279.50" y1="351.40" x2="279.50" y2="374.50" stroke="#0a0a0a" stroke-width="1.2" />
<text x="279.50" y="349.68" font-size="7.2" text-anchor="middle" fill="#000" stroke="#000" stroke-width="0.35">*</text>
<rect x="298.50" y="392.40" width="8.00" height="6.10" fill="#0a0a0a" />
<line x1="302.50" y1="391.50" x2="302.50" y2="392.60" stroke="#0a0a0a" stroke-width="1.05" />
<line x1="301.20" y1="391.50" x2="303.80" y2="391.50" stroke="#0a0a0a" stroke-width="1.05" />
<rect x="309.40" y="351.00" width="7.80" height="47.50" fill="#bdbdbd" />
<line x1="313.30" y1="334.70" x2="313.30" y2="366.40" stroke="#0a0a0a" stroke-width="1.2" />
<text x="313.30" y="333.98" font-size="7.2" text-anchor="middle" fill="#000" stroke="#000" stroke-width="0.35">*</text>
<text x="274.00" y="406.80" font-size="6.6" text-anchor="middle" fill="#0a0a0a" stroke="#0a0a0a" stroke-width="0.22">MV4-11</text>
<text x="308.00" y="406.80" font-size="6.6" text-anchor="middle" fill="#0a0a0a" stroke="#0a0a0a" stroke-width="0.22">Molm-14</text>
<text x="343.20" y="303.70" font-size="11.5" font-weight="bold" fill="#000" stroke="#000" stroke-width="0.35">I</text>
<text x="414.40" y="319.40" font-size="8.7" text-anchor="middle" fill="#0a0a0a" stroke="#0a0a0a" stroke-width="0.22">CerS1 mRNA</text>
<line x1="365.50" y1="342.50" x2="365.50" y2="397.30" stroke="#0a0a0a" stroke-width="1.15" />
<line x1="362.30" y1="397.30" x2="365.50" y2="397.30" stroke="#0a0a0a" stroke-width="1.035" />
<text x="359.90" y="399.42" font-size="5.9" text-anchor="end" fill="#0a0a0a" stroke="#0a0a0a" stroke-width="0.22">0</text>
<line x1="362.30" y1="388.65" x2="365.50" y2="388.65" stroke="#0a0a0a" stroke-width="1.035" />
<text x="359.90" y="390.77" font-size="5.9" text-anchor="end" fill="#0a0a0a" stroke="#0a0a0a" stroke-width="0.22">1</text>
<line x1="362.30" y1="380.00" x2="365.50" y2="380.00" stroke="#0a0a0a" stroke-width="1.035" />
<text x="359.90" y="382.12" font-size="5.9" text-anchor="end" fill="#0a0a0a" stroke="#0a0a0a" stroke-width="0.22">2</text>
<line x1="362.30" y1="371.35" x2="365.50" y2="371.35" stroke="#0a0a0a" stroke-width="1.035" />
<text x="359.90" y="373.47" font-size="5.9" text-anchor="end" fill="#0a0a0a" stroke="#0a0a0a" stroke-width="0.22">3</text>
<line x1="362.30" y1="362.70" x2="365.50" y2="362.70" stroke="#0a0a0a" stroke-width="1.035" />
<text x="359.90" y="364.82" font-size="5.9" text-anchor="end" fill="#0a0a0a" stroke="#0a0a0a" stroke-width="0.22">4</text>
<line x1="362.30" y1="354.05" x2="365.50" y2="354.05" stroke="#0a0a0a" stroke-width="1.035" />
<text x="359.90" y="356.17" font-size="5.9" text-anchor="end" fill="#0a0a0a" stroke="#0a0a0a" stroke-width="0.22">5</text>
<line x1="362.30" y1="345.40" x2="365.50" y2="345.40" stroke="#0a0a0a" stroke-width="1.035" />
<text x="359.90" y="347.52" font-size="5.9" text-anchor="end" fill="#0a0a0a" stroke="#0a0a0a" stroke-width="0.22">6</text>
<line x1="363.80" y1="392.98" x2="365.50" y2="392.98" stroke="#0a0a0a" stroke-width="0.7" />
<line x1="363.80" y1="384.33" x2="365.50" y2="384.33" stroke="#0a0a0a" stroke-width="0.7" />
<line x1="363.80" y1="375.68" x2="365.50" y2="375.68" stroke="#0a0a0a" stroke-width="0.7" />
<line x1="363.80" y1="367.02" x2="365.50" y2="367.02" stroke="#0a0a0a" stroke-width="0.7" />
<line x1="363.80" y1="358.38" x2="365.50" y2="358.38" stroke="#0a0a0a" stroke-width="0.7" />
<line x1="363.80" y1="349.73" x2="365.50" y2="349.73" stroke="#0a0a0a" stroke-width="0.7" />
<line x1="364.95" y1="397.50" x2="459.40" y2="397.50" stroke="#0a0a0a" stroke-width="1.15" />
<text x="0" y="0" font-size="8.2" text-anchor="middle" fill="#0a0a0a" stroke="#0a0a0a" stroke-width="0.22" transform="translate(349.60 370.30) rotate(-90) scale(0.9 1)">Fold change</text>
<rect x="370.50" y="388.70" width="6.90" height="8.60" fill="#0a0a0a" />
<rect x="380.80" y="369.60" width="7.00" height="27.70" fill="#a0a0a0" />
<line x1="384.30" y1="368.80" x2="384.30" y2="369.80" stroke="#0a0a0a" stroke-width="1.05" />
<line x1="382.90" y1="368.80" x2="385.70" y2="368.80" stroke="#0a0a0a" stroke-width="1.05" />
<text x="384.30" y="367.98" font-size="7.2" text-anchor="middle" fill="#000" stroke="#000" stroke-width="0.35">*</text>
<rect x="390.90" y="363.70" width="6.90" height="33.60" fill="#5a5a5a" />
<line x1="394.40" y1="357.50" x2="394.40" y2="364.00" stroke="#0a0a0a" stroke-width="1.05" />
<line x1="392.80" y1="357.50" x2="396.00" y2="357.50" stroke="#0a0a0a" stroke-width="1.05" />
<text x="394.40" y="356.88" font-size="7.2" text-anchor="middle" fill="#000" stroke="#000" stroke-width="0.35">*</text>
<rect x="400.90" y="359.20" width="6.90" height="38.10" fill="#d6d6d6" />
<line x1="404.40" y1="349.50" x2="404.40" y2="359.50" stroke="#0a0a0a" stroke-width="1.05" />
<line x1="402.80" y1="349.50" x2="406.00" y2="349.50" stroke="#0a0a0a" stroke-width="1.05" />
<text x="404.40" y="348.38" font-size="7.2" text-anchor="middle" fill="#000" stroke="#000" stroke-width="0.35">*</text>
<rect x="418.90" y="388.70" width="6.90" height="8.60" fill="#0a0a0a" />
<rect x="429.00" y="379.30" width="6.90" height="18.00" fill="#a0a0a0" />
<line x1="432.50" y1="378.30" x2="432.50" y2="379.50" stroke="#0a0a0a" stroke-width="1.05" />
<line x1="431.10" y1="378.30" x2="433.90" y2="378.30" stroke="#0a0a0a" stroke-width="1.05" />
<text x="432.50" y="377.58" font-size="7.2" text-anchor="middle" fill="#000" stroke="#000" stroke-width="0.35">*</text>
<rect x="439.00" y="373.00" width="6.90" height="24.30" fill="#5a5a5a" />
<line x1="442.50" y1="369.80" x2="442.50" y2="373.30" stroke="#0a0a0a" stroke-width="1.05" />
<line x1="440.90" y1="369.80" x2="444.10" y2="369.80" stroke="#0a0a0a" stroke-width="1.05" />
<text x="442.50" y="369.58" font-size="7.2" text-anchor="middle" fill="#000" stroke="#000" stroke-width="0.35">*</text>
<rect x="449.00" y="361.00" width="7.20" height="36.30" fill="#d6d6d6" />
<line x1="452.60" y1="358.80" x2="452.60" y2="361.30" stroke="#0a0a0a" stroke-width="1.05" />
<line x1="451.00" y1="358.80" x2="454.20" y2="358.80" stroke="#0a0a0a" stroke-width="1.05" />
<text x="452.60" y="358.28" font-size="7.2" text-anchor="middle" fill="#000" stroke="#000" stroke-width="0.35">*</text>
<text x="388.50" y="407.00" font-size="6.6" text-anchor="middle" fill="#0a0a0a" stroke="#0a0a0a" stroke-width="0.22">MV4-11</text>
<text x="437.00" y="407.00" font-size="6.6" text-anchor="middle" fill="#0a0a0a" stroke="#0a0a0a" stroke-width="0.22">Molm-14</text>
<rect x="465.30" y="341.10" width="5.60" height="5.00" fill="#0a0a0a" />
<text x="473.50" y="345.50" font-size="5.3" text-anchor="start" fill="#0a0a0a" stroke="#0a0a0a" stroke-width="0.22">Vehicle</text>
<rect x="465.30" y="349.20" width="5.60" height="5.00" fill="#a0a0a0" />
<text x="473.50" y="353.60" font-size="5.3" text-anchor="start" fill="#0a0a0a" stroke="#0a0a0a" stroke-width="0.22">Sorafenib</text>
<rect x="465.30" y="357.30" width="5.60" height="5.00" fill="#5a5a5a" />
<text x="473.50" y="361.70" font-size="5.3" text-anchor="start" fill="#0a0a0a" stroke="#0a0a0a" stroke-width="0.22">AC220</text>
<rect x="465.30" y="365.40" width="5.60" height="5.00" fill="#d6d6d6" />
<text x="473.50" y="369.80" font-size="5.3" text-anchor="start" fill="#0a0a0a" stroke="#0a0a0a" stroke-width="0.22">Crenolanib</text>
<text x="8.00" y="432.70" font-size="11.5" font-weight="bold" fill="#000" stroke="#000" stroke-width="0.35">J</text>
<text x="76.00" y="470.50" font-size="7.6" text-anchor="middle" font-weight="bold" fill="#0a0a0a" stroke="#0a0a0a" stroke-width="0.18">MV4-11</text>
<text x="148.80" y="470.50" font-size="7.6" text-anchor="middle" font-weight="bold" fill="#0a0a0a" stroke="#0a0a0a" stroke-width="0.18">Molm-14</text>
<text x="0" y="0" font-size="6.2" text-anchor="start" font-weight="bold" fill="#0a0a0a" stroke="#0a0a0a" stroke-width="0.18" transform="translate(41.50 498.50) rotate(-45)">Vehicle</text>
<text x="0" y="0" font-size="6.2" text-anchor="start" font-weight="bold" fill="#0a0a0a" stroke="#0a0a0a" stroke-width="0.18" transform="translate(58.50 498.50) rotate(-45)">Sorafenib</text>
<text x="0" y="0" font-size="6.2" text-anchor="start" font-weight="bold" fill="#0a0a0a" stroke="#0a0a0a" stroke-width="0.18" transform="translate(78.00 498.50) rotate(-45)">AC220</text>
<text x="0" y="0" font-size="6.2" text-anchor="start" font-weight="bold" fill="#0a0a0a" stroke="#0a0a0a" stroke-width="0.18" transform="translate(91.00 498.50) rotate(-45)">Crenolanib</text>
<text x="0" y="0" font-size="6.2" text-anchor="start" font-weight="bold" fill="#0a0a0a" stroke="#0a0a0a" stroke-width="0.18" transform="translate(118.50 498.50) rotate(-45)">Vehicle</text>
<text x="0" y="0" font-size="6.2" text-anchor="start" font-weight="bold" fill="#0a0a0a" stroke="#0a0a0a" stroke-width="0.18" transform="translate(136.00 498.50) rotate(-45)">Sorafenib</text>
<text x="0" y="0" font-size="6.2" text-anchor="start" font-weight="bold" fill="#0a0a0a" stroke="#0a0a0a" stroke-width="0.18" transform="translate(155.50 498.50) rotate(-45)">AC220</text>
<text x="0" y="0" font-size="6.2" text-anchor="start" font-weight="bold" fill="#0a0a0a" stroke="#0a0a0a" stroke-width="0.18" transform="translate(169.00 498.50) rotate(-45)">Crenolanib</text>
<clipPath id="c10"><rect x="30.50" y="501.00" width="74.00" height="21.00"/></clipPath>
<rect x="30.50" y="501.00" width="74.00" height="21.00" fill="#a3a3a3" />
<g clip-path="url(#c10)"><rect x="40.00" y="511.20" width="11.00" height="2.00" rx="1.00" fill="#444" opacity="0.8" filter="url(#b05)"/></g>
<g clip-path="url(#c10)"><rect x="54.50" y="510.70" width="13.00" height="2.90" rx="1.45" fill="#0a0a0a" opacity="1" filter="url(#b05)"/></g>
<g clip-path="url(#c10)"><rect x="70.00" y="510.90" width="12.50" height="2.90" rx="1.45" fill="#0a0a0a" opacity="1" filter="url(#b05)"/></g>
<g clip-path="url(#c10)"><rect x="84.50" y="511.40" width="13.00" height="2.60" rx="1.30" fill="#0a0a0a" opacity="1" filter="url(#b05)"/></g>
<clipPath id="c11"><rect x="30.50" y="524.50" width="74.00" height="20.00"/></clipPath>
<rect x="30.50" y="524.50" width="74.00" height="20.00" fill="#d8d8d8" />
<g clip-path="url(#c11)"><rect x="36.00" y="533.00" width="65.00" height="4.60" rx="2.00" fill="#0a0a0a" opacity="1" filter="url(#b05)"/></g>
<clipPath id="c12"><rect x="106.30" y="501.00" width="73.70" height="21.00"/></clipPath>
<rect x="106.30" y="501.00" width="73.70" height="21.00" fill="#a8a8a8" />
<g clip-path="url(#c12)"><rect x="124.00" y="510.80" width="15.00" height="6.80" rx="2.00" fill="#0a0a0a" opacity="1" filter="url(#b1)"/></g>
<g clip-path="url(#c12)"><rect x="141.00" y="510.80" width="15.00" height="6.80" rx="2.00" fill="#0a0a0a" opacity="1" filter="url(#b1)"/></g>
<g clip-path="url(#c12)"><rect x="158.60" y="512.50" width="2.40" height="4.00" rx="2.00" fill="#222" opacity="0.9" filter="url(#b05)"/></g>
<g clip-path="url(#c12)"><rect x="162.00" y="511.30" width="12.00" height="6.00" rx="2.00" fill="#0a0a0a" opacity="1" filter="url(#b1)"/></g>
<clipPath id="c13"><rect x="106.30" y="524.50" width="73.70" height="20.00"/></clipPath>
<rect x="106.30" y="524.50" width="73.70" height="20.00" fill="#b4b4b4" />
<g clip-path="url(#c13)"><rect x="109.00" y="531.60" width="62.50" height="3.80" rx="1.90" fill="#0a0a0a" opacity="1" filter="url(#b05)" transform="rotate(-7.6 140.25 533.50)"/></g>
<text x="29.50" y="514.60" font-size="7.5" text-anchor="end" font-weight="bold" fill="#0a0a0a" stroke="#0a0a0a" stroke-width="0.18">CerS1</text>
<text x="29.50" y="537.20" font-size="7.5" text-anchor="end" font-weight="bold" fill="#0a0a0a" stroke="#0a0a0a" stroke-width="0.18">Actin</text>
<text x="0" y="0" font-size="8.8" text-anchor="middle" fill="#0a0a0a" stroke="#0a0a0a" stroke-width="0.22" transform="translate(201.70 510.00) rotate(-90) scale(0.86 1)">Normalized band</text>
<text x="0" y="0" font-size="8.8" text-anchor="middle" fill="#0a0a0a" stroke="#0a0a0a" stroke-width="0.22" transform="translate(211.20 510.00) rotate(-90) scale(0.86 1)">intensity</text>
<text x="262.00" y="458.40" font-size="8.5" text-anchor="middle" fill="#0a0a0a" stroke="#0a0a0a" stroke-width="0.22">CerS1 protein</text>
<text x="262.00" y="467.90" font-size="8.5" text-anchor="middle" fill="#0a0a0a" stroke="#0a0a0a" stroke-width="0.22">levels</text>
<line x1="229.50" y1="478.00" x2="229.50" y2="537.40" stroke="#0a0a0a" stroke-width="1.15" />
<line x1="226.20" y1="537.40" x2="229.50" y2="537.40" stroke="#0a0a0a" stroke-width="1.035" />
<text x="223.80" y="539.56" font-size="6" text-anchor="end" fill="#0a0a0a" stroke="#0a0a0a" stroke-width="0.22">0</text>
<line x1="226.20" y1="527.83" x2="229.50" y2="527.83" stroke="#0a0a0a" stroke-width="1.035" />
<text x="223.80" y="529.99" font-size="6" text-anchor="end" fill="#0a0a0a" stroke="#0a0a0a" stroke-width="0.22">1</text>
<line x1="226.20" y1="518.26" x2="229.50" y2="518.26" stroke="#0a0a0a" stroke-width="1.035" />
<text x="223.80" y="520.42" font-size="6" text-anchor="end" fill="#0a0a0a" stroke="#0a0a0a" stroke-width="0.22">2</text>
<line x1="226.20" y1="508.69" x2="229.50" y2="508.69" stroke="#0a0a0a" stroke-width="1.035" />
<text x="223.80" y="510.85" font-size="6" text-anchor="end" fill="#0a0a0a" stroke="#0a0a0a" stroke-width="0.22">3</text>
<line x1="226.20" y1="499.12" x2="229.50" y2="499.12" stroke="#0a0a0a" stroke-width="1.035" />
<text x="223.80" y="501.28" font-size="6" text-anchor="end" fill="#0a0a0a" stroke="#0a0a0a" stroke-width="0.22">4</text>
<line x1="226.20" y1="489.55" x2="229.50" y2="489.55" stroke="#0a0a0a" stroke-width="1.035" />
<text x="223.80" y="491.71" font-size="6" text-anchor="end" fill="#0a0a0a" stroke="#0a0a0a" stroke-width="0.22">5</text>
<line x1="226.20" y1="479.98" x2="229.50" y2="479.98" stroke="#0a0a0a" stroke-width="1.035" />
<text x="223.80" y="482.14" font-size="6" text-anchor="end" fill="#0a0a0a" stroke="#0a0a0a" stroke-width="0.22">6</text>
<line x1="227.80" y1="532.62" x2="229.50" y2="532.62" stroke="#0a0a0a" stroke-width="0.7" />
<line x1="227.80" y1="523.04" x2="229.50" y2="523.04" stroke="#0a0a0a" stroke-width="0.7" />
<line x1="227.80" y1="513.48" x2="229.50" y2="513.48" stroke="#0a0a0a" stroke-width="0.7" />
<line x1="227.80" y1="503.90" x2="229.50" y2="503.90" stroke="#0a0a0a" stroke-width="0.7" />
<line x1="227.80" y1="494.33" x2="229.50" y2="494.33" stroke="#0a0a0a" stroke-width="0.7" />
<line x1="227.80" y1="484.76" x2="229.50" y2="484.76" stroke="#0a0a0a" stroke-width="0.7" />
<line x1="228.95" y1="537.50" x2="293.80" y2="537.50" stroke="#0a0a0a" stroke-width="1.15" />
<rect x="232.90" y="526.00" width="5.70" height="11.40" fill="#0a0a0a" />
<line x1="235.75" y1="525.00" x2="235.75" y2="527.00" stroke="#0a0a0a" stroke-width="0.9" />
<line x1="234.55" y1="525.00" x2="236.95" y2="525.00" stroke="#0a0a0a" stroke-width="0.9" />
<line x1="234.55" y1="527.00" x2="236.95" y2="527.00" stroke="#0a0a0a" stroke-width="0.9" />
<rect x="239.60" y="507.40" width="5.70" height="30.00" fill="#a0a0a0" />
<line x1="242.45" y1="505.20" x2="242.45" y2="509.60" stroke="#0a0a0a" stroke-width="0.9" />
<line x1="241.25" y1="505.20" x2="243.65" y2="505.20" stroke="#0a0a0a" stroke-width="0.9" />
<line x1="241.25" y1="509.60" x2="243.65" y2="509.60" stroke="#0a0a0a" stroke-width="0.9" />
<text x="242.45" y="503.58" font-size="7.2" text-anchor="middle" fill="#000" stroke="#000" stroke-width="0.35">*</text>
<rect x="246.20" y="506.00" width="5.70" height="31.40" fill="#5a5a5a" />
<line x1="249.05" y1="503.00" x2="249.05" y2="509.00" stroke="#0a0a0a" stroke-width="0.9" />
<line x1="247.85" y1="503.00" x2="250.25" y2="503.00" stroke="#0a0a0a" stroke-width="0.9" />
<line x1="247.85" y1="509.00" x2="250.25" y2="509.00" stroke="#0a0a0a" stroke-width="0.9" />
<text x="249.05" y="501.58" font-size="7.2" text-anchor="middle" fill="#000" stroke="#000" stroke-width="0.35">*</text>
<rect x="252.80" y="508.00" width="5.70" height="29.40" fill="#d6d6d6" />
<line x1="255.65" y1="506.60" x2="255.65" y2="509.40" stroke="#0a0a0a" stroke-width="0.9" />
<line x1="254.45" y1="506.60" x2="256.85" y2="506.60" stroke="#0a0a0a" stroke-width="0.9" />
<line x1="254.45" y1="509.40" x2="256.85" y2="509.40" stroke="#0a0a0a" stroke-width="0.9" />
<text x="255.65" y="506.08" font-size="7.2" text-anchor="middle" fill="#000" stroke="#000" stroke-width="0.35">*</text>
<rect x="266.90" y="525.60" width="5.70" height="11.80" fill="#0a0a0a" />
<line x1="269.75" y1="524.10" x2="269.75" y2="527.10" stroke="#0a0a0a" stroke-width="0.9" />
<line x1="268.55" y1="524.10" x2="270.95" y2="524.10" stroke="#0a0a0a" stroke-width="0.9" />
<line x1="268.55" y1="527.10" x2="270.95" y2="527.10" stroke="#0a0a0a" stroke-width="0.9" />
<rect x="273.60" y="496.70" width="5.70" height="40.70" fill="#a0a0a0" />
<line x1="276.45" y1="494.20" x2="276.45" y2="499.20" stroke="#0a0a0a" stroke-width="0.9" />
<line x1="275.25" y1="494.20" x2="277.65" y2="494.20" stroke="#0a0a0a" stroke-width="0.9" />
<line x1="275.25" y1="499.20" x2="277.65" y2="499.20" stroke="#0a0a0a" stroke-width="0.9" />
<text x="276.45" y="492.18" font-size="7.2" text-anchor="middle" fill="#000" stroke="#000" stroke-width="0.35">*</text>
<rect x="280.20" y="493.00" width="5.70" height="44.40" fill="#5a5a5a" />
<line x1="283.05" y1="490.20" x2="283.05" y2="495.80" stroke="#0a0a0a" stroke-width="0.9" />
<line x1="281.85" y1="490.20" x2="284.25" y2="490.20" stroke="#0a0a0a" stroke-width="0.9" />
<line x1="281.85" y1="495.80" x2="284.25" y2="495.80" stroke="#0a0a0a" stroke-width="0.9" />
<text x="283.05" y="487.88" font-size="7.2" text-anchor="middle" fill="#000" stroke="#000" stroke-width="0.35">*</text>
<rect x="286.80" y="514.60" width="5.70" height="22.80" fill="#d6d6d6" />
<line x1="289.65" y1="513.10" x2="289.65" y2="516.10" stroke="#0a0a0a" stroke-width="0.9" />
<line x1="288.45" y1="513.10" x2="290.85" y2="513.10" stroke="#0a0a0a" stroke-width="0.9" />
<line x1="288.45" y1="516.10" x2="290.85" y2="516.10" stroke="#0a0a0a" stroke-width="0.9" />
<text x="289.65" y="512.38" font-size="7.2" text-anchor="middle" fill="#000" stroke="#000" stroke-width="0.35">*</text>
<text x="245.70" y="545.80" font-size="6.6" text-anchor="middle" fill="#0a0a0a" stroke="#0a0a0a" stroke-width="0.22">MV4-11</text>
<text x="279.40" y="545.80" font-size="6.6" text-anchor="middle" fill="#0a0a0a" stroke="#0a0a0a" stroke-width="0.22">Molm-14</text>
<rect x="298.20" y="495.50" width="5.00" height="4.80" fill="#0a0a0a" />
<text x="306.20" y="499.80" font-size="5.6" text-anchor="start" fill="#0a0a0a" stroke="#0a0a0a" stroke-width="0.22">Vehicle</text>
<rect x="298.20" y="503.00" width="5.00" height="4.80" fill="#a0a0a0" />
<text x="306.20" y="507.30" font-size="5.6" text-anchor="start" fill="#0a0a0a" stroke="#0a0a0a" stroke-width="0.22">Sorafenib</text>
<rect x="298.20" y="510.50" width="5.00" height="4.80" fill="#5a5a5a" />
<text x="306.20" y="514.80" font-size="5.6" text-anchor="start" fill="#0a0a0a" stroke="#0a0a0a" stroke-width="0.22">AC220</text>
<rect x="298.20" y="518.00" width="5.00" height="4.80" fill="#d6d6d6" />
<text x="306.20" y="522.30" font-size="5.6" text-anchor="start" fill="#0a0a0a" stroke="#0a0a0a" stroke-width="0.22">Crenolanib</text>
<text x="342.30" y="432.70" font-size="11.5" font-weight="bold" fill="#000" stroke="#000" stroke-width="0.35">K</text>
<text x="410.40" y="446.30" font-size="8.7" text-anchor="middle" fill="#0a0a0a" stroke="#0a0a0a" stroke-width="0.22">C<tspan font-size="5.8" dy="1.7">18</tspan><tspan dy="-1.7">-ceramide</tspan></text>
<line x1="365.50" y1="453.00" x2="365.50" y2="537.30" stroke="#0a0a0a" stroke-width="1.15" />
<line x1="362.30" y1="537.30" x2="365.50" y2="537.30" stroke="#0a0a0a" stroke-width="1.035" />
<text x="359.90" y="539.32" font-size="5.6" text-anchor="end" fill="#0a0a0a" stroke="#0a0a0a" stroke-width="0.22">0</text>
<line x1="362.30" y1="525.60" x2="365.50" y2="525.60" stroke="#0a0a0a" stroke-width="1.035" />
<text x="359.90" y="527.62" font-size="5.6" text-anchor="end" fill="#0a0a0a" stroke="#0a0a0a" stroke-width="0.22">2</text>
<line x1="362.30" y1="513.90" x2="365.50" y2="513.90" stroke="#0a0a0a" stroke-width="1.035" />
<text x="359.90" y="515.92" font-size="5.6" text-anchor="end" fill="#0a0a0a" stroke="#0a0a0a" stroke-width="0.22">4</text>
<line x1="362.30" y1="502.20" x2="365.50" y2="502.20" stroke="#0a0a0a" stroke-width="1.035" />
<text x="359.90" y="504.22" font-size="5.6" text-anchor="end" fill="#0a0a0a" stroke="#0a0a0a" stroke-width="0.22">6</text>
<line x1="362.30" y1="490.50" x2="365.50" y2="490.50" stroke="#0a0a0a" stroke-width="1.035" />
<text x="359.90" y="492.52" font-size="5.6" text-anchor="end" fill="#0a0a0a" stroke="#0a0a0a" stroke-width="0.22">8</text>
<line x1="362.30" y1="478.80" x2="365.50" y2="478.80" stroke="#0a0a0a" stroke-width="1.035" />
<text x="359.90" y="480.82" font-size="5.6" text-anchor="end" fill="#0a0a0a" stroke="#0a0a0a" stroke-width="0.22">10</text>
<line x1="362.30" y1="467.10" x2="365.50" y2="467.10" stroke="#0a0a0a" stroke-width="1.035" />
<text x="359.90" y="469.12" font-size="5.6" text-anchor="end" fill="#0a0a0a" stroke="#0a0a0a" stroke-width="0.22">12</text>
<line x1="362.30" y1="455.40" x2="365.50" y2="455.40" stroke="#0a0a0a" stroke-width="1.035" />
<text x="359.90" y="457.42" font-size="5.6" text-anchor="end" fill="#0a0a0a" stroke="#0a0a0a" stroke-width="0.22">14</text>
<line x1="363.80" y1="531.45" x2="365.50" y2="531.45" stroke="#0a0a0a" stroke-width="0.7" />
<line x1="363.80" y1="519.75" x2="365.50" y2="519.75" stroke="#0a0a0a" stroke-width="0.7" />
<line x1="363.80" y1="508.05" x2="365.50" y2="508.05" stroke="#0a0a0a" stroke-width="0.7" />
<line x1="363.80" y1="496.35" x2="365.50" y2="496.35" stroke="#0a0a0a" stroke-width="0.7" />
<line x1="363.80" y1="484.65" x2="365.50" y2="484.65" stroke="#0a0a0a" stroke-width="0.7" />
<line x1="363.80" y1="472.95" x2="365.50" y2="472.95" stroke="#0a0a0a" stroke-width="0.7" />
<line x1="363.80" y1="461.25" x2="365.50" y2="461.25" stroke="#0a0a0a" stroke-width="0.7" />
<line x1="364.95" y1="537.50" x2="456.50" y2="537.50" stroke="#0a0a0a" stroke-width="1.15" />
<text x="0" y="0" font-size="8.3" text-anchor="middle" fill="#0a0a0a" stroke="#0a0a0a" stroke-width="0.22" transform="translate(346.40 495.50) rotate(-90) scale(0.9 1)">Fold change</text>
<rect x="370.90" y="531.80" width="6.60" height="5.50" fill="#0a0a0a" />
<line x1="374.20" y1="531.00" x2="374.20" y2="532.10" stroke="#0a0a0a" stroke-width="1.1" />
<line x1="372.80" y1="531.00" x2="375.60" y2="531.00" stroke="#0a0a0a" stroke-width="1.1" />
<rect x="380.00" y="501.80" width="6.60" height="35.50" fill="#a0a0a0" />
<line x1="383.30" y1="481.70" x2="383.30" y2="502.10" stroke="#0a0a0a" stroke-width="1.1" />
<line x1="381.90" y1="481.70" x2="384.70" y2="481.70" stroke="#0a0a0a" stroke-width="1.1" />
<text x="383.30" y="480.58" font-size="7.2" text-anchor="middle" fill="#000" stroke="#000" stroke-width="0.35">*</text>
<rect x="389.20" y="526.00" width="6.60" height="11.30" fill="#5a5a5a" />
<line x1="392.50" y1="522.60" x2="392.50" y2="526.30" stroke="#0a0a0a" stroke-width="1.1" />
<line x1="391.10" y1="522.60" x2="393.90" y2="522.60" stroke="#0a0a0a" stroke-width="1.1" />
<text x="392.50" y="522.38" font-size="7.2" text-anchor="middle" fill="#000" stroke="#000" stroke-width="0.35">*</text>
<rect x="398.30" y="493.40" width="6.60" height="43.90" fill="#d6d6d6" />
<line x1="401.60" y1="465.30" x2="401.60" y2="493.70" stroke="#0a0a0a" stroke-width="1.1" />
<line x1="400.20" y1="465.30" x2="403.00" y2="465.30" stroke="#0a0a0a" stroke-width="1.1" />
<text x="401.60" y="464.58" font-size="7.2" text-anchor="middle" fill="#000" stroke="#000" stroke-width="0.35">*</text>
<rect x="414.80" y="531.00" width="6.60" height="6.30" fill="#0a0a0a" />
<line x1="418.10" y1="530.20" x2="418.10" y2="531.30" stroke="#0a0a0a" stroke-width="1.1" />
<line x1="416.70" y1="530.20" x2="419.50" y2="530.20" stroke="#0a0a0a" stroke-width="1.1" />
<rect x="423.90" y="519.40" width="6.60" height="17.90" fill="#a0a0a0" />
<line x1="427.20" y1="518.70" x2="427.20" y2="519.70" stroke="#0a0a0a" stroke-width="1.1" />
<line x1="425.80" y1="518.70" x2="428.60" y2="518.70" stroke="#0a0a0a" stroke-width="1.1" />
<text x="427.20" y="518.18" font-size="7.2" text-anchor="middle" fill="#000" stroke="#000" stroke-width="0.35">*</text>
<rect x="433.00" y="519.70" width="6.60" height="17.60" fill="#5a5a5a" />
<line x1="436.30" y1="517.50" x2="436.30" y2="520.00" stroke="#0a0a0a" stroke-width="1.1" />
<line x1="434.90" y1="517.50" x2="437.70" y2="517.50" stroke="#0a0a0a" stroke-width="1.1" />
<text x="436.30" y="516.98" font-size="7.2" text-anchor="middle" fill="#000" stroke="#000" stroke-width="0.35">*</text>
<rect x="442.20" y="489.00" width="6.60" height="48.30" fill="#d6d6d6" />
<line x1="445.50" y1="487.20" x2="445.50" y2="489.30" stroke="#0a0a0a" stroke-width="1.1" />
<line x1="444.10" y1="487.20" x2="446.90" y2="487.20" stroke="#0a0a0a" stroke-width="1.1" />
<text x="445.50" y="486.08" font-size="7.2" text-anchor="middle" fill="#000" stroke="#000" stroke-width="0.35">*</text>
<text x="388.50" y="547.00" font-size="6.6" text-anchor="middle" fill="#0a0a0a" stroke="#0a0a0a" stroke-width="0.22">MV4-11</text>
<text x="432.30" y="547.00" font-size="6.6" text-anchor="middle" fill="#0a0a0a" stroke="#0a0a0a" stroke-width="0.22">Molm-14</text>
<rect x="462.60" y="488.40" width="5.40" height="5.00" fill="#0a0a0a" />
<text x="470.20" y="492.80" font-size="5.6" text-anchor="start" fill="#0a0a0a" stroke="#0a0a0a" stroke-width="0.22">Vehicle</text>
<rect x="462.60" y="496.30" width="5.40" height="5.00" fill="#a0a0a0" />
<text x="470.20" y="500.70" font-size="5.6" text-anchor="start" fill="#0a0a0a" stroke="#0a0a0a" stroke-width="0.22">Sorafenib</text>
<rect x="462.60" y="504.20" width="5.40" height="5.00" fill="#5a5a5a" />
<text x="470.20" y="508.60" font-size="5.6" text-anchor="start" fill="#0a0a0a" stroke="#0a0a0a" stroke-width="0.22">AC220</text>
<rect x="462.60" y="512.10" width="5.40" height="5.00" fill="#d6d6d6" />
<text x="470.20" y="516.50" font-size="5.6" text-anchor="start" fill="#0a0a0a" stroke="#0a0a0a" stroke-width="0.22">Crenolanib</text>
<text x="8.50" y="570.20" font-size="11.5" font-weight="bold" fill="#000" stroke="#000" stroke-width="0.35">L</text>
<text x="35.50" y="599.80" font-size="7" text-anchor="middle" font-weight="bold" fill="#0a0a0a" stroke="#0a0a0a" stroke-width="0.18">1</text>
<text x="50.80" y="599.80" font-size="7" text-anchor="middle" font-weight="bold" fill="#0a0a0a" stroke="#0a0a0a" stroke-width="0.18">2</text>
<text x="64.30" y="599.80" font-size="7" text-anchor="middle" font-weight="bold" fill="#0a0a0a" stroke="#0a0a0a" stroke-width="0.18">3</text>
<text x="77.50" y="599.80" font-size="7" text-anchor="middle" font-weight="bold" fill="#0a0a0a" stroke="#0a0a0a" stroke-width="0.18">4</text>
<clipPath id="c14"><rect x="28.00" y="602.00" width="57.00" height="17.00"/></clipPath>
<rect x="28.00" y="602.00" width="57.00" height="17.00" fill="#e2e2e2" stroke="#222" stroke-width="0.7"/>
<g clip-path="url(#c14)"><rect x="29.50" y="608.30" width="10.50" height="3.30" rx="1.65" fill="#222" opacity="1" filter="url(#b05)"/></g>
<g clip-path="url(#c14)"><rect x="44.50" y="609.00" width="10.50" height="3.30" rx="1.65" fill="#777" opacity="0.6" filter="url(#b1)"/></g>
<g clip-path="url(#c14)"><rect x="58.80" y="608.40" width="11.20" height="3.80" rx="1.90" fill="#0a0a0a" opacity="1" filter="url(#b05)"/></g>
<g clip-path="url(#c14)"><rect x="72.50" y="608.20" width="11.30" height="3.80" rx="1.90" fill="#0a0a0a" opacity="1" filter="url(#b05)"/></g>
<clipPath id="c15"><rect x="28.00" y="621.00" width="57.00" height="12.50"/></clipPath>
<rect x="28.00" y="621.00" width="57.00" height="12.50" fill="#d6d6d6" stroke="#222" stroke-width="0.7"/>
<g clip-path="url(#c15)"><rect x="31.00" y="625.60" width="14.00" height="2.80" rx="1.40" fill="#0a0a0a" opacity="1" filter="url(#b05)"/></g>
<g clip-path="url(#c15)"><rect x="44.00" y="625.90" width="13.00" height="2.80" rx="1.40" fill="#111" opacity="1" filter="url(#b05)"/></g>
<g clip-path="url(#c15)"><rect x="56.00" y="626.10" width="14.00" height="2.80" rx="1.40" fill="#0a0a0a" opacity="1" filter="url(#b05)"/></g>
<g clip-path="url(#c15)"><rect x="69.00" y="626.10" width="13.50" height="3.00" rx="1.50" fill="#0a0a0a" opacity="1" filter="url(#b05)"/></g>
<text x="27.60" y="612.80" font-size="7.9" text-anchor="end" font-weight="bold" fill="#0a0a0a" stroke="#0a0a0a" stroke-width="0.18">CerS1</text>
<text x="27.30" y="630.00" font-size="7.5" text-anchor="end" font-weight="bold" fill="#0a0a0a" stroke="#0a0a0a" stroke-width="0.18">Actin</text>
<text x="8.80" y="646.00" font-size="6.45" text-anchor="start" font-weight="bold" fill="#0a0a0a" stroke="#0a0a0a" stroke-width="0.18">1. sh-Scramble</text>
<text x="8.80" y="656.50" font-size="6.45" text-anchor="start" font-weight="bold" fill="#0a0a0a" stroke="#0a0a0a" stroke-width="0.18">2. sh-CerS1+ vector</text>
<text x="8.80" y="667.10" font-size="6.45" text-anchor="start" font-weight="bold" fill="#0a0a0a" stroke="#0a0a0a" stroke-width="0.18">3. sh-CerS1+ CerS1 WT</text>
<text x="8.80" y="677.60" font-size="6.45" text-anchor="start" font-weight="bold" fill="#0a0a0a" stroke="#0a0a0a" stroke-width="0.18">4. sh-CerS1+ CerS1 mutant</text>
<text x="101.00" y="570.20" font-size="11.5" font-weight="bold" fill="#000" stroke="#000" stroke-width="0.35">M</text>
<text x="198.50" y="585.70" font-size="8.4" text-anchor="middle" fill="#0a0a0a" stroke="#0a0a0a" stroke-width="0.22">C<tspan font-size="5.6" dy="1.6">18</tspan><tspan dy="-1.6">-ceramide</tspan></text>
<line x1="126.50" y1="600.80" x2="126.50" y2="634.80" stroke="#0a0a0a" stroke-width="1.15" />
<line x1="123.20" y1="603.70" x2="126.50" y2="603.70" stroke="#0a0a0a" stroke-width="1.035" />
<text x="120.80" y="605.90" font-size="6.1" text-anchor="end" fill="#0a0a0a" stroke="#0a0a0a" stroke-width="0.22">12</text>
<line x1="123.20" y1="610.80" x2="126.50" y2="610.80" stroke="#0a0a0a" stroke-width="1.035" />
<text x="120.80" y="613.00" font-size="6.1" text-anchor="end" fill="#0a0a0a" stroke="#0a0a0a" stroke-width="0.22">10</text>
<line x1="123.20" y1="617.90" x2="126.50" y2="617.90" stroke="#0a0a0a" stroke-width="1.035" />
<text x="120.80" y="620.10" font-size="6.1" text-anchor="end" fill="#0a0a0a" stroke="#0a0a0a" stroke-width="0.22">8</text>
<line x1="123.20" y1="625.00" x2="126.50" y2="625.00" stroke="#0a0a0a" stroke-width="1.035" />
<text x="120.80" y="627.20" font-size="6.1" text-anchor="end" fill="#0a0a0a" stroke="#0a0a0a" stroke-width="0.22">6</text>
<line x1="123.20" y1="632.10" x2="126.50" y2="632.10" stroke="#0a0a0a" stroke-width="1.035" />
<text x="120.80" y="634.30" font-size="6.1" text-anchor="end" fill="#0a0a0a" stroke="#0a0a0a" stroke-width="0.22">4</text>
<line x1="126.50" y1="639.40" x2="126.50" y2="670.70" stroke="#0a0a0a" stroke-width="1.15" />
<line x1="123.20" y1="649.80" x2="126.50" y2="649.80" stroke="#0a0a0a" stroke-width="1.035" />
<text x="120.80" y="652.00" font-size="6.1" text-anchor="end" fill="#0a0a0a" stroke="#0a0a0a" stroke-width="0.22">2</text>
<line x1="123.20" y1="670.70" x2="126.50" y2="670.70" stroke="#0a0a0a" stroke-width="1.035" />
<text x="120.80" y="672.90" font-size="6.1" text-anchor="end" fill="#0a0a0a" stroke="#0a0a0a" stroke-width="0.22">0</text>
<line x1="125.30" y1="635.40" x2="129.00" y2="634.40" stroke="#0a0a0a" stroke-width="0.8" />
<line x1="125.30" y1="640.00" x2="129.00" y2="639.00" stroke="#0a0a0a" stroke-width="0.8" />
<line x1="125.95" y1="670.50" x2="270.00" y2="670.50" stroke="#0a0a0a" stroke-width="1.15" />
<text x="0" y="0" font-size="8.3" text-anchor="middle" fill="#0a0a0a" stroke="#0a0a0a" stroke-width="0.22" transform="translate(109.30 635.80) rotate(-90) scale(0.9 1)">Fold change</text>
<rect x="134.20" y="596.60" width="5.60" height="5.30" fill="#0a0a0a" />
<text x="143.00" y="602.00" font-size="7.4" text-anchor="start" fill="#0a0a0a" stroke="#0a0a0a" stroke-width="0.22">Vehicle</text>
<rect x="134.20" y="606.40" width="5.60" height="5.30" fill="#bdbdbd" />
<text x="143.00" y="611.80" font-size="7.4" text-anchor="start" fill="#0a0a0a" stroke="#0a0a0a" stroke-width="0.22">Crenolanib</text>
<rect x="131.00" y="660.20" width="12.20" height="10.50" fill="#0a0a0a" />
<line x1="137.10" y1="659.60" x2="137.10" y2="660.50" stroke="#0a0a0a" stroke-width="1.15" />
<line x1="134.90" y1="659.60" x2="139.30" y2="659.60" stroke="#0a0a0a" stroke-width="1.15" />
<rect x="146.40" y="648.80" width="12.20" height="21.90" fill="#bdbdbd" />
<line x1="152.50" y1="648.20" x2="152.50" y2="649.10" stroke="#0a0a0a" stroke-width="1.15" />
<line x1="150.30" y1="648.20" x2="154.70" y2="648.20" stroke="#0a0a0a" stroke-width="1.15" />
<rect x="167.00" y="663.50" width="12.20" height="7.20" fill="#0a0a0a" />
<line x1="173.10" y1="661.20" x2="173.10" y2="663.80" stroke="#0a0a0a" stroke-width="1.15" />
<line x1="170.90" y1="661.20" x2="175.30" y2="661.20" stroke="#0a0a0a" stroke-width="1.15" />
<rect x="181.70" y="666.00" width="12.20" height="4.70" fill="#bdbdbd" />
<line x1="187.80" y1="664.60" x2="187.80" y2="666.30" stroke="#0a0a0a" stroke-width="1.15" />
<line x1="185.60" y1="664.60" x2="190.00" y2="664.60" stroke="#0a0a0a" stroke-width="1.15" />
<rect x="202.20" y="629.80" width="12.20" height="40.90" fill="#0a0a0a" />
<line x1="208.30" y1="629.20" x2="208.30" y2="630.10" stroke="#0a0a0a" stroke-width="1.15" />
<line x1="206.10" y1="629.20" x2="210.50" y2="629.20" stroke="#0a0a0a" stroke-width="1.15" />
<rect x="217.70" y="612.80" width="12.20" height="57.90" fill="#bdbdbd" />
<line x1="223.80" y1="607.00" x2="223.80" y2="613.10" stroke="#0a0a0a" stroke-width="1.15" />
<line x1="221.60" y1="607.00" x2="226.00" y2="607.00" stroke="#0a0a0a" stroke-width="1.15" />
<rect x="238.00" y="653.00" width="12.20" height="17.70" fill="#0a0a0a" />
<line x1="244.10" y1="652.40" x2="244.10" y2="653.30" stroke="#0a0a0a" stroke-width="1.15" />
<line x1="241.90" y1="652.40" x2="246.30" y2="652.40" stroke="#0a0a0a" stroke-width="1.15" />
<rect x="253.60" y="655.30" width="12.20" height="15.40" fill="#bdbdbd" />
<line x1="259.70" y1="654.70" x2="259.70" y2="655.60" stroke="#0a0a0a" stroke-width="1.15" />
<line x1="257.50" y1="654.70" x2="261.90" y2="654.70" stroke="#0a0a0a" stroke-width="1.15" />
<rect x="200.00" y="635.70" width="32.00" height="3.50" fill="#fff" />
<line x1="144.40" y1="670.70" x2="144.40" y2="673.40" stroke="#0a0a0a" stroke-width="1.0" />
<text x="144.70" y="682.80" font-size="6" text-anchor="middle" fill="#0a0a0a" stroke="#0a0a0a" stroke-width="0.22">1</text>
<line x1="179.90" y1="670.70" x2="179.90" y2="673.40" stroke="#0a0a0a" stroke-width="1.0" />
<text x="180.20" y="682.80" font-size="6" text-anchor="middle" fill="#0a0a0a" stroke="#0a0a0a" stroke-width="0.22">2</text>
<line x1="215.30" y1="670.70" x2="215.30" y2="673.40" stroke="#0a0a0a" stroke-width="1.0" />
<text x="215.60" y="682.80" font-size="6" text-anchor="middle" fill="#0a0a0a" stroke="#0a0a0a" stroke-width="0.22">3</text>
<line x1="251.00" y1="670.70" x2="251.00" y2="673.40" stroke="#0a0a0a" stroke-width="1.0" />
<text x="251.30" y="682.80" font-size="6" text-anchor="middle" fill="#0a0a0a" stroke="#0a0a0a" stroke-width="0.22">4</text>
<polyline points="136.50,658.50 136.50,638.50 153.50,638.50 153.50,646.50" fill="none" stroke="#0a0a0a" stroke-width="1.1" />
<text x="145.70" y="637.68" font-size="7.2" text-anchor="middle" fill="#000" stroke="#000" stroke-width="0.35">*</text>
<polyline points="137.50,626.50 137.50,622.50 206.50,622.50 206.50,627.50" fill="none" stroke="#0a0a0a" stroke-width="1.1" />
<text x="169.50" y="621.98" font-size="7.2" text-anchor="middle" fill="#000" stroke="#000" stroke-width="0.35">*</text>
<polyline points="207.50,626.50 207.50,599.50 224.50,599.50 224.50,606.50" fill="none" stroke="#0a0a0a" stroke-width="1.1" />
<text x="216.60" y="599.38" font-size="7.2" text-anchor="middle" fill="#000" stroke="#000" stroke-width="0.35">*</text>
<text x="278.80" y="570.20" font-size="11.5" font-weight="bold" fill="#000" stroke="#000" stroke-width="0.35">N</text>
<line x1="304.50" y1="595.50" x2="304.50" y2="671.10" stroke="#0a0a0a" stroke-width="1.15" />
<line x1="301.30" y1="671.10" x2="304.50" y2="671.10" stroke="#0a0a0a" stroke-width="1.035" />
<text x="299.30" y="673.33" font-size="6.2" text-anchor="end" fill="#0a0a0a" stroke="#0a0a0a" stroke-width="0.22">0</text>
<line x1="301.30" y1="665.45" x2="304.50" y2="665.45" stroke="#0a0a0a" stroke-width="1.035" />
<text x="299.30" y="667.68" font-size="6.2" text-anchor="end" fill="#0a0a0a" stroke="#0a0a0a" stroke-width="0.22">10</text>
<line x1="301.30" y1="659.80" x2="304.50" y2="659.80" stroke="#0a0a0a" stroke-width="1.035" />
<text x="299.30" y="662.03" font-size="6.2" text-anchor="end" fill="#0a0a0a" stroke="#0a0a0a" stroke-width="0.22">20</text>
<line x1="301.30" y1="654.15" x2="304.50" y2="654.15" stroke="#0a0a0a" stroke-width="1.035" />
<text x="299.30" y="656.38" font-size="6.2" text-anchor="end" fill="#0a0a0a" stroke="#0a0a0a" stroke-width="0.22">30</text>
<line x1="301.30" y1="648.50" x2="304.50" y2="648.50" stroke="#0a0a0a" stroke-width="1.035" />
<text x="299.30" y="650.73" font-size="6.2" text-anchor="end" fill="#0a0a0a" stroke="#0a0a0a" stroke-width="0.22">40</text>
<line x1="301.30" y1="642.85" x2="304.50" y2="642.85" stroke="#0a0a0a" stroke-width="1.035" />
<text x="299.30" y="645.08" font-size="6.2" text-anchor="end" fill="#0a0a0a" stroke="#0a0a0a" stroke-width="0.22">50</text>
<line x1="301.30" y1="637.20" x2="304.50" y2="637.20" stroke="#0a0a0a" stroke-width="1.035" />
<text x="299.30" y="639.43" font-size="6.2" text-anchor="end" fill="#0a0a0a" stroke="#0a0a0a" stroke-width="0.22">60</text>
<line x1="301.30" y1="631.55" x2="304.50" y2="631.55" stroke="#0a0a0a" stroke-width="1.035" />
<text x="299.30" y="633.78" font-size="6.2" text-anchor="end" fill="#0a0a0a" stroke="#0a0a0a" stroke-width="0.22">70</text>
<line x1="301.30" y1="625.90" x2="304.50" y2="625.90" stroke="#0a0a0a" stroke-width="1.035" />
<text x="299.30" y="628.13" font-size="6.2" text-anchor="end" fill="#0a0a0a" stroke="#0a0a0a" stroke-width="0.22">80</text>
<line x1="301.30" y1="620.25" x2="304.50" y2="620.25" stroke="#0a0a0a" stroke-width="1.035" />
<text x="299.30" y="622.48" font-size="6.2" text-anchor="end" fill="#0a0a0a" stroke="#0a0a0a" stroke-width="0.22">90</text>
<line x1="301.30" y1="614.60" x2="304.50" y2="614.60" stroke="#0a0a0a" stroke-width="1.035" />
<text x="299.30" y="616.83" font-size="6.2" text-anchor="end" fill="#0a0a0a" stroke="#0a0a0a" stroke-width="0.22">100</text>
<line x1="301.30" y1="608.95" x2="304.50" y2="608.95" stroke="#0a0a0a" stroke-width="1.035" />
<text x="299.30" y="611.18" font-size="6.2" text-anchor="end" fill="#0a0a0a" stroke="#0a0a0a" stroke-width="0.22">110</text>
<line x1="301.30" y1="603.30" x2="304.50" y2="603.30" stroke="#0a0a0a" stroke-width="1.035" />
<text x="299.30" y="605.53" font-size="6.2" text-anchor="end" fill="#0a0a0a" stroke="#0a0a0a" stroke-width="0.22">120</text>
<line x1="301.30" y1="597.65" x2="304.50" y2="597.65" stroke="#0a0a0a" stroke-width="1.035" />
<text x="299.30" y="599.88" font-size="6.2" text-anchor="end" fill="#0a0a0a" stroke="#0a0a0a" stroke-width="0.22">130</text>
<line x1="303.95" y1="671.50" x2="468.50" y2="671.50" stroke="#0a0a0a" stroke-width="1.15" />
<line x1="316.00" y1="671.10" x2="316.00" y2="674.00" stroke="#0a0a0a" stroke-width="1.0" />
<text x="316.00" y="682.90" font-size="6.2" text-anchor="middle" fill="#0a0a0a" stroke="#0a0a0a" stroke-width="0.22">0</text>
<line x1="339.40" y1="671.10" x2="339.40" y2="674.00" stroke="#0a0a0a" stroke-width="1.0" />
<text x="339.40" y="682.90" font-size="6.2" text-anchor="middle" fill="#0a0a0a" stroke="#0a0a0a" stroke-width="0.22">2</text>
<line x1="363.00" y1="671.10" x2="363.00" y2="674.00" stroke="#0a0a0a" stroke-width="1.0" />
<text x="363.00" y="682.90" font-size="6.2" text-anchor="middle" fill="#0a0a0a" stroke="#0a0a0a" stroke-width="0.22">4</text>
<line x1="386.70" y1="671.10" x2="386.70" y2="674.00" stroke="#0a0a0a" stroke-width="1.0" />
<text x="386.70" y="682.90" font-size="6.2" text-anchor="middle" fill="#0a0a0a" stroke="#0a0a0a" stroke-width="0.22">6</text>
<line x1="410.20" y1="671.10" x2="410.20" y2="674.00" stroke="#0a0a0a" stroke-width="1.0" />
<text x="410.20" y="682.90" font-size="6.2" text-anchor="middle" fill="#0a0a0a" stroke="#0a0a0a" stroke-width="0.22">8</text>
<line x1="433.40" y1="671.10" x2="433.40" y2="674.00" stroke="#0a0a0a" stroke-width="1.0" />
<text x="433.40" y="682.90" font-size="6.2" text-anchor="middle" fill="#0a0a0a" stroke="#0a0a0a" stroke-width="0.22">10</text>
<line x1="456.80" y1="671.10" x2="456.80" y2="674.00" stroke="#0a0a0a" stroke-width="1.0" />
<text x="456.80" y="682.90" font-size="6.2" text-anchor="middle" fill="#0a0a0a" stroke="#0a0a0a" stroke-width="0.22">15</text>
<text x="0" y="0" font-size="8.3" text-anchor="middle" fill="#0a0a0a" stroke="#0a0a0a" stroke-width="0.22" transform="translate(282.50 633.00) rotate(-90) scale(0.88 1)">% viability</text>
<text x="0" y="0" font-size="8.6" text-anchor="middle" fill="#0a0a0a" stroke="#0a0a0a" stroke-width="0.22" transform="translate(386.80 694.60) scale(0.91 1)">[Crenolanib] µM</text>
<line x1="327.70" y1="671.10" x2="327.70" y2="672.80" stroke="#0a0a0a" stroke-width="0.8" />
<line x1="351.20" y1="671.10" x2="351.20" y2="672.80" stroke="#0a0a0a" stroke-width="0.8" />
<line x1="374.80" y1="671.10" x2="374.80" y2="672.80" stroke="#0a0a0a" stroke-width="0.8" />
<line x1="398.40" y1="671.10" x2="398.40" y2="672.80" stroke="#0a0a0a" stroke-width="0.8" />
<line x1="421.80" y1="671.10" x2="421.80" y2="672.80" stroke="#0a0a0a" stroke-width="0.8" />
<line x1="445.10" y1="671.10" x2="445.10" y2="672.80" stroke="#0a0a0a" stroke-width="0.8" />
<polyline points="316.00,611.77 339.40,631.55 363.00,638.33 386.70,643.42 410.20,644.55 433.40,645.11 456.80,651.89" fill="none" stroke="#0a0a0a" stroke-width="1.3" />
<polyline points="316.00,610.64 339.40,630.42 363.00,633.25 386.70,645.68 410.20,653.02 433.40,664.32 456.80,671.10" fill="none" stroke="#7d7d7d" stroke-width="1.25" />
<polyline points="316.00,612.90 339.40,618.56 363.00,621.95 386.70,624.77 410.20,629.86 433.40,635.50 456.80,642.29" fill="none" stroke="#0a0a0a" stroke-width="1.3" stroke-dasharray="3 1.6"/>
<polyline points="316.00,612.90 339.40,619.12 363.00,625.90 386.70,628.73 410.20,636.07 433.40,640.02 456.80,642.85" fill="none" stroke="#7d7d7d" stroke-width="1.4" stroke-dasharray="3 1.6"/>
<line x1="316.00" y1="607.25" x2="316.00" y2="616.30" stroke="#0a0a0a" stroke-width="0.7" />
<line x1="314.70" y1="607.25" x2="317.30" y2="607.25" stroke="#0a0a0a" stroke-width="0.7" />
<line x1="314.70" y1="616.30" x2="317.30" y2="616.30" stroke="#0a0a0a" stroke-width="0.7" />
<rect x="315.10" y="610.88" width="1.80" height="1.80" fill="#0a0a0a" />
<line x1="339.40" y1="629.86" x2="339.40" y2="633.25" stroke="#0a0a0a" stroke-width="0.7" />
<line x1="338.10" y1="629.86" x2="340.70" y2="629.86" stroke="#0a0a0a" stroke-width="0.7" />
<line x1="338.10" y1="633.25" x2="340.70" y2="633.25" stroke="#0a0a0a" stroke-width="0.7" />
<rect x="338.50" y="630.65" width="1.80" height="1.80" fill="#0a0a0a" />
<line x1="363.00" y1="637.20" x2="363.00" y2="639.46" stroke="#0a0a0a" stroke-width="0.7" />
<line x1="361.70" y1="637.20" x2="364.30" y2="637.20" stroke="#0a0a0a" stroke-width="0.7" />
<line x1="361.70" y1="639.46" x2="364.30" y2="639.46" stroke="#0a0a0a" stroke-width="0.7" />
<rect x="362.10" y="637.43" width="1.80" height="1.80" fill="#0a0a0a" />
<line x1="386.70" y1="641.72" x2="386.70" y2="645.11" stroke="#0a0a0a" stroke-width="0.7" />
<line x1="385.40" y1="641.72" x2="388.00" y2="641.72" stroke="#0a0a0a" stroke-width="0.7" />
<line x1="385.40" y1="645.11" x2="388.00" y2="645.11" stroke="#0a0a0a" stroke-width="0.7" />
<rect x="385.80" y="642.52" width="1.80" height="1.80" fill="#0a0a0a" />
<line x1="410.20" y1="643.70" x2="410.20" y2="645.39" stroke="#0a0a0a" stroke-width="0.7" />
<line x1="408.90" y1="643.70" x2="411.50" y2="643.70" stroke="#0a0a0a" stroke-width="0.7" />
<line x1="408.90" y1="645.39" x2="411.50" y2="645.39" stroke="#0a0a0a" stroke-width="0.7" />
<rect x="409.30" y="643.65" width="1.80" height="1.80" fill="#0a0a0a" />
<line x1="433.40" y1="644.26" x2="433.40" y2="645.96" stroke="#0a0a0a" stroke-width="0.7" />
<line x1="432.10" y1="644.26" x2="434.70" y2="644.26" stroke="#0a0a0a" stroke-width="0.7" />
<line x1="432.10" y1="645.96" x2="434.70" y2="645.96" stroke="#0a0a0a" stroke-width="0.7" />
<rect x="432.50" y="644.21" width="1.80" height="1.80" fill="#0a0a0a" />
<line x1="456.80" y1="650.76" x2="456.80" y2="653.02" stroke="#0a0a0a" stroke-width="0.7" />
<line x1="455.50" y1="650.76" x2="458.10" y2="650.76" stroke="#0a0a0a" stroke-width="0.7" />
<line x1="455.50" y1="653.02" x2="458.10" y2="653.02" stroke="#0a0a0a" stroke-width="0.7" />
<rect x="455.90" y="650.99" width="1.80" height="1.80" fill="#0a0a0a" />
<line x1="316.00" y1="606.12" x2="316.00" y2="615.17" stroke="#0a0a0a" stroke-width="0.7" />
<line x1="314.70" y1="606.12" x2="317.30" y2="606.12" stroke="#0a0a0a" stroke-width="0.7" />
<line x1="314.70" y1="615.17" x2="317.30" y2="615.17" stroke="#0a0a0a" stroke-width="0.7" />
<rect x="315.10" y="609.75" width="1.80" height="1.80" fill="#0a0a0a" />
<line x1="339.40" y1="627.60" x2="339.40" y2="633.25" stroke="#0a0a0a" stroke-width="0.7" />
<line x1="338.10" y1="627.60" x2="340.70" y2="627.60" stroke="#0a0a0a" stroke-width="0.7" />
<line x1="338.10" y1="633.25" x2="340.70" y2="633.25" stroke="#0a0a0a" stroke-width="0.7" />
<rect x="338.50" y="629.52" width="1.80" height="1.80" fill="#0a0a0a" />
<line x1="363.00" y1="630.99" x2="363.00" y2="635.50" stroke="#0a0a0a" stroke-width="0.7" />
<line x1="361.70" y1="630.99" x2="364.30" y2="630.99" stroke="#0a0a0a" stroke-width="0.7" />
<line x1="361.70" y1="635.50" x2="364.30" y2="635.50" stroke="#0a0a0a" stroke-width="0.7" />
<rect x="362.10" y="632.35" width="1.80" height="1.80" fill="#0a0a0a" />
<line x1="386.70" y1="643.42" x2="386.70" y2="647.94" stroke="#0a0a0a" stroke-width="0.7" />
<line x1="385.40" y1="643.42" x2="388.00" y2="643.42" stroke="#0a0a0a" stroke-width="0.7" />
<line x1="385.40" y1="647.94" x2="388.00" y2="647.94" stroke="#0a0a0a" stroke-width="0.7" />
<rect x="385.80" y="644.78" width="1.80" height="1.80" fill="#0a0a0a" />
<line x1="410.20" y1="651.33" x2="410.20" y2="654.72" stroke="#0a0a0a" stroke-width="0.7" />
<line x1="408.90" y1="651.33" x2="411.50" y2="651.33" stroke="#0a0a0a" stroke-width="0.7" />
<line x1="408.90" y1="654.72" x2="411.50" y2="654.72" stroke="#0a0a0a" stroke-width="0.7" />
<rect x="409.30" y="652.12" width="1.80" height="1.80" fill="#0a0a0a" />
<line x1="433.40" y1="662.06" x2="433.40" y2="666.58" stroke="#0a0a0a" stroke-width="0.7" />
<line x1="432.10" y1="662.06" x2="434.70" y2="662.06" stroke="#0a0a0a" stroke-width="0.7" />
<line x1="432.10" y1="666.58" x2="434.70" y2="666.58" stroke="#0a0a0a" stroke-width="0.7" />
<rect x="432.50" y="663.42" width="1.80" height="1.80" fill="#0a0a0a" />
<rect x="455.90" y="670.20" width="1.80" height="1.80" fill="#0a0a0a" />
<line x1="316.00" y1="608.38" x2="316.00" y2="617.43" stroke="#0a0a0a" stroke-width="0.7" />
<line x1="314.70" y1="608.38" x2="317.30" y2="608.38" stroke="#0a0a0a" stroke-width="0.7" />
<line x1="314.70" y1="617.43" x2="317.30" y2="617.43" stroke="#0a0a0a" stroke-width="0.7" />
<rect x="315.10" y="612.00" width="1.80" height="1.80" fill="#0a0a0a" />
<line x1="339.40" y1="615.73" x2="339.40" y2="621.38" stroke="#0a0a0a" stroke-width="0.7" />
<line x1="338.10" y1="615.73" x2="340.70" y2="615.73" stroke="#0a0a0a" stroke-width="0.7" />
<line x1="338.10" y1="621.38" x2="340.70" y2="621.38" stroke="#0a0a0a" stroke-width="0.7" />
<rect x="338.50" y="617.66" width="1.80" height="1.80" fill="#0a0a0a" />
<line x1="363.00" y1="620.82" x2="363.00" y2="623.08" stroke="#0a0a0a" stroke-width="0.7" />
<line x1="361.70" y1="620.82" x2="364.30" y2="620.82" stroke="#0a0a0a" stroke-width="0.7" />
<line x1="361.70" y1="623.08" x2="364.30" y2="623.08" stroke="#0a0a0a" stroke-width="0.7" />
<rect x="362.10" y="621.05" width="1.80" height="1.80" fill="#0a0a0a" />
<line x1="386.70" y1="623.08" x2="386.70" y2="626.47" stroke="#0a0a0a" stroke-width="0.7" />
<line x1="385.40" y1="623.08" x2="388.00" y2="623.08" stroke="#0a0a0a" stroke-width="0.7" />
<line x1="385.40" y1="626.47" x2="388.00" y2="626.47" stroke="#0a0a0a" stroke-width="0.7" />
<rect x="385.80" y="623.87" width="1.80" height="1.80" fill="#0a0a0a" />
<line x1="410.20" y1="628.16" x2="410.20" y2="631.55" stroke="#0a0a0a" stroke-width="0.7" />
<line x1="408.90" y1="628.16" x2="411.50" y2="628.16" stroke="#0a0a0a" stroke-width="0.7" />
<line x1="408.90" y1="631.55" x2="411.50" y2="631.55" stroke="#0a0a0a" stroke-width="0.7" />
<rect x="409.30" y="628.96" width="1.80" height="1.80" fill="#0a0a0a" />
<line x1="433.40" y1="633.81" x2="433.40" y2="637.20" stroke="#0a0a0a" stroke-width="0.7" />
<line x1="432.10" y1="633.81" x2="434.70" y2="633.81" stroke="#0a0a0a" stroke-width="0.7" />
<line x1="432.10" y1="637.20" x2="434.70" y2="637.20" stroke="#0a0a0a" stroke-width="0.7" />
<rect x="432.50" y="634.61" width="1.80" height="1.80" fill="#0a0a0a" />
<line x1="456.80" y1="641.15" x2="456.80" y2="643.42" stroke="#0a0a0a" stroke-width="0.7" />
<line x1="455.50" y1="641.15" x2="458.10" y2="641.15" stroke="#0a0a0a" stroke-width="0.7" />
<line x1="455.50" y1="643.42" x2="458.10" y2="643.42" stroke="#0a0a0a" stroke-width="0.7" />
<rect x="455.90" y="641.39" width="1.80" height="1.80" fill="#0a0a0a" />
<line x1="316.00" y1="609.51" x2="316.00" y2="616.30" stroke="#0a0a0a" stroke-width="0.7" />
<line x1="314.70" y1="609.51" x2="317.30" y2="609.51" stroke="#0a0a0a" stroke-width="0.7" />
<line x1="314.70" y1="616.30" x2="317.30" y2="616.30" stroke="#0a0a0a" stroke-width="0.7" />
<rect x="315.10" y="612.00" width="1.80" height="1.80" fill="#0a0a0a" />
<line x1="339.40" y1="616.86" x2="339.40" y2="621.38" stroke="#0a0a0a" stroke-width="0.7" />
<line x1="338.10" y1="616.86" x2="340.70" y2="616.86" stroke="#0a0a0a" stroke-width="0.7" />
<line x1="338.10" y1="621.38" x2="340.70" y2="621.38" stroke="#0a0a0a" stroke-width="0.7" />
<rect x="338.50" y="618.22" width="1.80" height="1.80" fill="#0a0a0a" />
<line x1="363.00" y1="623.64" x2="363.00" y2="628.16" stroke="#0a0a0a" stroke-width="0.7" />
<line x1="361.70" y1="623.64" x2="364.30" y2="623.64" stroke="#0a0a0a" stroke-width="0.7" />
<line x1="361.70" y1="628.16" x2="364.30" y2="628.16" stroke="#0a0a0a" stroke-width="0.7" />
<rect x="362.10" y="625.00" width="1.80" height="1.80" fill="#0a0a0a" />
<line x1="386.70" y1="627.03" x2="386.70" y2="630.42" stroke="#0a0a0a" stroke-width="0.7" />
<line x1="385.40" y1="627.03" x2="388.00" y2="627.03" stroke="#0a0a0a" stroke-width="0.7" />
<line x1="385.40" y1="630.42" x2="388.00" y2="630.42" stroke="#0a0a0a" stroke-width="0.7" />
<rect x="385.80" y="627.83" width="1.80" height="1.80" fill="#0a0a0a" />
<line x1="410.20" y1="634.38" x2="410.20" y2="637.76" stroke="#0a0a0a" stroke-width="0.7" />
<line x1="408.90" y1="634.38" x2="411.50" y2="634.38" stroke="#0a0a0a" stroke-width="0.7" />
<line x1="408.90" y1="637.76" x2="411.50" y2="637.76" stroke="#0a0a0a" stroke-width="0.7" />
<rect x="409.30" y="635.17" width="1.80" height="1.80" fill="#0a0a0a" />
<line x1="433.40" y1="638.89" x2="433.40" y2="641.15" stroke="#0a0a0a" stroke-width="0.7" />
<line x1="432.10" y1="638.89" x2="434.70" y2="638.89" stroke="#0a0a0a" stroke-width="0.7" />
<line x1="432.10" y1="641.15" x2="434.70" y2="641.15" stroke="#0a0a0a" stroke-width="0.7" />
<rect x="432.50" y="639.12" width="1.80" height="1.80" fill="#0a0a0a" />
<line x1="456.80" y1="641.72" x2="456.80" y2="643.98" stroke="#0a0a0a" stroke-width="0.7" />
<line x1="455.50" y1="641.72" x2="458.10" y2="641.72" stroke="#0a0a0a" stroke-width="0.7" />
<line x1="455.50" y1="643.98" x2="458.10" y2="643.98" stroke="#0a0a0a" stroke-width="0.7" />
<rect x="455.90" y="641.95" width="1.80" height="1.80" fill="#0a0a0a" />
<line x1="319.50" y1="584.30" x2="333.50" y2="584.30" stroke="#0a0a0a" stroke-width="1.4" />
<text x="336.80" y="586.60" font-size="6.7" text-anchor="start" fill="#0a0a0a" stroke="#0a0a0a" stroke-width="0.22">sh-scr</text>
<line x1="319.50" y1="593.30" x2="333.50" y2="593.30" stroke="#7d7d7d" stroke-width="1.3" />
<text x="336.80" y="595.80" font-size="6.7" text-anchor="start" fill="#0a0a0a" stroke="#0a0a0a" stroke-width="0.22">shCerS1+CerS1 WT</text>
<line x1="405.60" y1="584.30" x2="419.00" y2="584.30" stroke="#0a0a0a" stroke-width="1.4" stroke-dasharray="3 1.6"/>
<text x="423.00" y="586.60" font-size="6.7" text-anchor="start" fill="#0a0a0a" stroke="#0a0a0a" stroke-width="0.22">sh-CerS1</text>
<line x1="405.60" y1="593.30" x2="419.00" y2="593.30" stroke="#7d7d7d" stroke-width="1.4" stroke-dasharray="3 1.6"/>
<text x="423.00" y="595.80" font-size="6.7" text-anchor="start" fill="#0a0a0a" stroke="#0a0a0a" stroke-width="0.22">shCerS1+CerS1 mutant</text>
<text x="480.00" y="634.80" font-size="6.2" text-anchor="middle" fill="#0a0a0a" stroke="#0a0a0a" stroke-width="0.22">EC50</text>
<text x="480.00" y="642.00" font-size="6.2" text-anchor="middle" fill="#0a0a0a" stroke="#0a0a0a" stroke-width="0.22">15.4±2.0</text>
<text x="480.00" y="649.10" font-size="6.2" text-anchor="middle" fill="#0a0a0a" stroke="#0a0a0a" stroke-width="0.22">14.4±1.1</text>
<text x="481.50" y="656.30" font-size="6.2" text-anchor="middle" fill="#0a0a0a" stroke="#0a0a0a" stroke-width="0.22">5.9±1.9</text>
<text x="481.50" y="672.60" font-size="6.2" text-anchor="middle" fill="#0a0a0a" stroke="#0a0a0a" stroke-width="0.22">5.5±0.9</text>
<polyline points="498.80,640.00 500.40,640.00 500.40,655.50 498.80,655.50" fill="none" stroke="#0a0a0a" stroke-width="1.2" />
<text x="503.50" y="650.35" font-size="6.5" text-anchor="middle" fill="#000" stroke="#000" stroke-width="0.35">*</text>
<polyline points="494.70,647.00 496.30,647.00 496.30,671.00 494.70,671.00" fill="none" stroke="#0a0a0a" stroke-width="1.2" />
<text x="499.30" y="660.25" font-size="6.5" text-anchor="middle" fill="#000" stroke="#000" stroke-width="0.35">*</text>
<polyline points="506.30,647.00 507.90,647.00 507.90,671.70 506.30,671.70" fill="none" stroke="#0a0a0a" stroke-width="1.2" />
<text x="511.40" y="661.05" font-size="6.5" text-anchor="middle" fill="#000" stroke="#000" stroke-width="0.35">*</text>
<rect x="0.5" y="0.5" width="518.9" height="703" fill="none" stroke="#000" stroke-width="1.1"/>
</svg>
</body></html>
